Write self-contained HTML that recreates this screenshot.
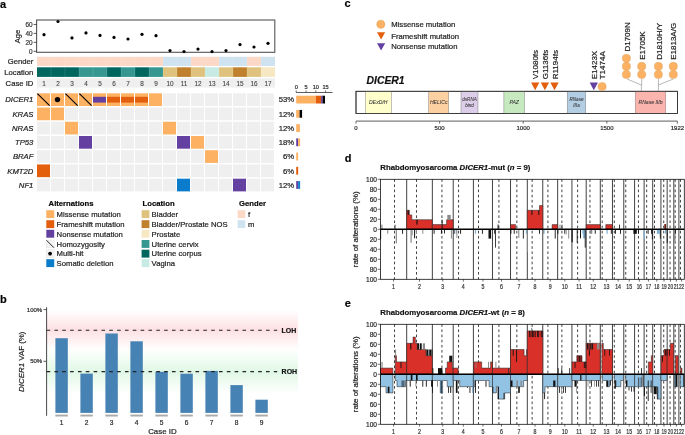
<!DOCTYPE html>
<html><head><meta charset="utf-8"><style>
html,body{margin:0;padding:0;background:#fff;overflow:hidden;}
svg{display:block;font-family:"Liberation Sans",sans-serif;will-change:transform;}
text{stroke:#222;stroke-width:0.2px;}
</style></head><body>
<svg width="685" height="435" viewBox="0 0 685 435">
<rect width="685" height="435" fill="#fff"/>
<text x="0" y="7.8" font-size="11" font-weight="bold">a</text>
<rect x="36.6" y="20.0" width="238.2" height="32.3" fill="none" stroke="#555" stroke-width="1.1"/>
<line x1="33.6" y1="51.30" x2="36.6" y2="51.30" stroke="#333" stroke-width="0.8"/>
<text x="32.6" y="53.60" font-size="6.4" text-anchor="end" fill="#4d4d4d">0</text>
<line x1="33.6" y1="42.36" x2="36.6" y2="42.36" stroke="#333" stroke-width="0.8"/>
<text x="32.6" y="44.66" font-size="6.4" text-anchor="end" fill="#4d4d4d">20</text>
<line x1="33.6" y1="33.42" x2="36.6" y2="33.42" stroke="#333" stroke-width="0.8"/>
<text x="32.6" y="35.72" font-size="6.4" text-anchor="end" fill="#4d4d4d">40</text>
<line x1="33.6" y1="24.48" x2="36.6" y2="24.48" stroke="#333" stroke-width="0.8"/>
<text x="32.6" y="26.78" font-size="6.4" text-anchor="end" fill="#4d4d4d">60</text>
<text transform="translate(19.6,36.5) rotate(-90)" font-size="7.7" text-anchor="middle" fill="#1a1a1a">Age</text>
<circle cx="44" cy="34.7" r="1.6" fill="#000"/>
<circle cx="58" cy="21.5" r="1.6" fill="#000"/>
<circle cx="72" cy="37.9" r="1.6" fill="#000"/>
<circle cx="86" cy="32.9" r="1.6" fill="#000"/>
<circle cx="100" cy="35.4" r="1.6" fill="#000"/>
<circle cx="114" cy="37.4" r="1.6" fill="#000"/>
<circle cx="128" cy="39.0" r="1.6" fill="#000"/>
<circle cx="142" cy="34.3" r="1.6" fill="#000"/>
<circle cx="156" cy="35.7" r="1.6" fill="#000"/>
<circle cx="170" cy="50.6" r="1.6" fill="#000"/>
<circle cx="184" cy="51.6" r="1.6" fill="#000"/>
<circle cx="198" cy="49.1" r="1.6" fill="#000"/>
<circle cx="212" cy="51.6" r="1.6" fill="#000"/>
<circle cx="226" cy="50.6" r="1.6" fill="#000"/>
<circle cx="240" cy="44.6" r="1.6" fill="#000"/>
<circle cx="254" cy="47.0" r="1.6" fill="#000"/>
<circle cx="268" cy="43.3" r="1.6" fill="#000"/>
<rect x="37" y="56.8" width="14.05" height="9.1" fill="#FCD8C6"/>
<rect x="51" y="56.8" width="14.05" height="9.1" fill="#FCD8C6"/>
<line x1="51" y1="56.8" x2="51" y2="65.9" stroke="#fff" stroke-opacity="0.3" stroke-width="0.5"/>
<rect x="65" y="56.8" width="14.05" height="9.1" fill="#FCD8C6"/>
<line x1="65" y1="56.8" x2="65" y2="65.9" stroke="#fff" stroke-opacity="0.3" stroke-width="0.5"/>
<rect x="79" y="56.8" width="14.05" height="9.1" fill="#FCD8C6"/>
<line x1="79" y1="56.8" x2="79" y2="65.9" stroke="#fff" stroke-opacity="0.3" stroke-width="0.5"/>
<rect x="93" y="56.8" width="14.05" height="9.1" fill="#FCD8C6"/>
<line x1="93" y1="56.8" x2="93" y2="65.9" stroke="#fff" stroke-opacity="0.3" stroke-width="0.5"/>
<rect x="107" y="56.8" width="14.05" height="9.1" fill="#FCD8C6"/>
<line x1="107" y1="56.8" x2="107" y2="65.9" stroke="#fff" stroke-opacity="0.3" stroke-width="0.5"/>
<rect x="121" y="56.8" width="14.05" height="9.1" fill="#FCD8C6"/>
<line x1="121" y1="56.8" x2="121" y2="65.9" stroke="#fff" stroke-opacity="0.3" stroke-width="0.5"/>
<rect x="135" y="56.8" width="14.05" height="9.1" fill="#FCD8C6"/>
<line x1="135" y1="56.8" x2="135" y2="65.9" stroke="#fff" stroke-opacity="0.3" stroke-width="0.5"/>
<rect x="149" y="56.8" width="14.05" height="9.1" fill="#FCD8C6"/>
<line x1="149" y1="56.8" x2="149" y2="65.9" stroke="#fff" stroke-opacity="0.3" stroke-width="0.5"/>
<rect x="163" y="56.8" width="14.05" height="9.1" fill="#CFE2F0"/>
<line x1="163" y1="56.8" x2="163" y2="65.9" stroke="#fff" stroke-opacity="0.3" stroke-width="0.5"/>
<rect x="177" y="56.8" width="14.05" height="9.1" fill="#CFE2F0"/>
<line x1="177" y1="56.8" x2="177" y2="65.9" stroke="#fff" stroke-opacity="0.3" stroke-width="0.5"/>
<rect x="191" y="56.8" width="14.05" height="9.1" fill="#FCD8C6"/>
<line x1="191" y1="56.8" x2="191" y2="65.9" stroke="#fff" stroke-opacity="0.3" stroke-width="0.5"/>
<rect x="205" y="56.8" width="14.05" height="9.1" fill="#FCD8C6"/>
<line x1="205" y1="56.8" x2="205" y2="65.9" stroke="#fff" stroke-opacity="0.3" stroke-width="0.5"/>
<rect x="219" y="56.8" width="14.05" height="9.1" fill="#CFE2F0"/>
<line x1="219" y1="56.8" x2="219" y2="65.9" stroke="#fff" stroke-opacity="0.3" stroke-width="0.5"/>
<rect x="233" y="56.8" width="14.05" height="9.1" fill="#CFE2F0"/>
<line x1="233" y1="56.8" x2="233" y2="65.9" stroke="#fff" stroke-opacity="0.3" stroke-width="0.5"/>
<rect x="247" y="56.8" width="14.05" height="9.1" fill="#FCD8C6"/>
<line x1="247" y1="56.8" x2="247" y2="65.9" stroke="#fff" stroke-opacity="0.3" stroke-width="0.5"/>
<rect x="261" y="56.8" width="14.05" height="9.1" fill="#CFE2F0"/>
<line x1="261" y1="56.8" x2="261" y2="65.9" stroke="#fff" stroke-opacity="0.3" stroke-width="0.5"/>
<rect x="37" y="67.3" width="14.05" height="9.6" fill="#01665E"/>
<rect x="51" y="67.3" width="14.05" height="9.6" fill="#01665E"/>
<line x1="51" y1="67.3" x2="51" y2="76.9" stroke="#fff" stroke-opacity="0.25" stroke-width="0.5"/>
<rect x="65" y="67.3" width="14.05" height="9.6" fill="#01665E"/>
<line x1="65" y1="67.3" x2="65" y2="76.9" stroke="#fff" stroke-opacity="0.25" stroke-width="0.5"/>
<rect x="79" y="67.3" width="14.05" height="9.6" fill="#35978F"/>
<line x1="79" y1="67.3" x2="79" y2="76.9" stroke="#fff" stroke-opacity="0.25" stroke-width="0.5"/>
<rect x="93" y="67.3" width="14.05" height="9.6" fill="#35978F"/>
<line x1="93" y1="67.3" x2="93" y2="76.9" stroke="#fff" stroke-opacity="0.25" stroke-width="0.5"/>
<rect x="107" y="67.3" width="14.05" height="9.6" fill="#01665E"/>
<line x1="107" y1="67.3" x2="107" y2="76.9" stroke="#fff" stroke-opacity="0.25" stroke-width="0.5"/>
<rect x="121" y="67.3" width="14.05" height="9.6" fill="#35978F"/>
<line x1="121" y1="67.3" x2="121" y2="76.9" stroke="#fff" stroke-opacity="0.25" stroke-width="0.5"/>
<rect x="135" y="67.3" width="14.05" height="9.6" fill="#01665E"/>
<line x1="135" y1="67.3" x2="135" y2="76.9" stroke="#fff" stroke-opacity="0.25" stroke-width="0.5"/>
<rect x="149" y="67.3" width="14.05" height="9.6" fill="#35978F"/>
<line x1="149" y1="67.3" x2="149" y2="76.9" stroke="#fff" stroke-opacity="0.25" stroke-width="0.5"/>
<rect x="163" y="67.3" width="14.05" height="9.6" fill="#DFC27D"/>
<line x1="163" y1="67.3" x2="163" y2="76.9" stroke="#fff" stroke-opacity="0.25" stroke-width="0.5"/>
<rect x="177" y="67.3" width="14.05" height="9.6" fill="#BF812D"/>
<line x1="177" y1="67.3" x2="177" y2="76.9" stroke="#fff" stroke-opacity="0.25" stroke-width="0.5"/>
<rect x="191" y="67.3" width="14.05" height="9.6" fill="#DFC27D"/>
<line x1="191" y1="67.3" x2="191" y2="76.9" stroke="#fff" stroke-opacity="0.25" stroke-width="0.5"/>
<rect x="205" y="67.3" width="14.05" height="9.6" fill="#C7EAE5"/>
<line x1="205" y1="67.3" x2="205" y2="76.9" stroke="#fff" stroke-opacity="0.25" stroke-width="0.5"/>
<rect x="219" y="67.3" width="14.05" height="9.6" fill="#DFC27D"/>
<line x1="219" y1="67.3" x2="219" y2="76.9" stroke="#fff" stroke-opacity="0.25" stroke-width="0.5"/>
<rect x="233" y="67.3" width="14.05" height="9.6" fill="#BF812D"/>
<line x1="233" y1="67.3" x2="233" y2="76.9" stroke="#fff" stroke-opacity="0.25" stroke-width="0.5"/>
<rect x="247" y="67.3" width="14.05" height="9.6" fill="#DFC27D"/>
<line x1="247" y1="67.3" x2="247" y2="76.9" stroke="#fff" stroke-opacity="0.25" stroke-width="0.5"/>
<rect x="261" y="67.3" width="14.05" height="9.6" fill="#F6E8C3"/>
<line x1="261" y1="67.3" x2="261" y2="76.9" stroke="#fff" stroke-opacity="0.25" stroke-width="0.5"/>
<rect x="37" y="78.3" width="238" height="9.3" fill="#EFEFEF"/>
<text x="44" y="86.1" font-size="6.4" text-anchor="middle" fill="#444" style="stroke:#444;stroke-width:0.1px">1</text>
<text x="58" y="86.1" font-size="6.4" text-anchor="middle" fill="#444" style="stroke:#444;stroke-width:0.1px">2</text>
<text x="72" y="86.1" font-size="6.4" text-anchor="middle" fill="#444" style="stroke:#444;stroke-width:0.1px">3</text>
<text x="86" y="86.1" font-size="6.4" text-anchor="middle" fill="#444" style="stroke:#444;stroke-width:0.1px">4</text>
<text x="100" y="86.1" font-size="6.4" text-anchor="middle" fill="#444" style="stroke:#444;stroke-width:0.1px">5</text>
<text x="114" y="86.1" font-size="6.4" text-anchor="middle" fill="#444" style="stroke:#444;stroke-width:0.1px">6</text>
<text x="128" y="86.1" font-size="6.4" text-anchor="middle" fill="#444" style="stroke:#444;stroke-width:0.1px">7</text>
<text x="142" y="86.1" font-size="6.4" text-anchor="middle" fill="#444" style="stroke:#444;stroke-width:0.1px">8</text>
<text x="156" y="86.1" font-size="6.4" text-anchor="middle" fill="#444" style="stroke:#444;stroke-width:0.1px">9</text>
<text x="170" y="86.1" font-size="6.4" text-anchor="middle" fill="#444" style="stroke:#444;stroke-width:0.1px">10</text>
<text x="184" y="86.1" font-size="6.4" text-anchor="middle" fill="#444" style="stroke:#444;stroke-width:0.1px">11</text>
<text x="198" y="86.1" font-size="6.4" text-anchor="middle" fill="#444" style="stroke:#444;stroke-width:0.1px">12</text>
<text x="212" y="86.1" font-size="6.4" text-anchor="middle" fill="#444" style="stroke:#444;stroke-width:0.1px">13</text>
<text x="226" y="86.1" font-size="6.4" text-anchor="middle" fill="#444" style="stroke:#444;stroke-width:0.1px">14</text>
<text x="240" y="86.1" font-size="6.4" text-anchor="middle" fill="#444" style="stroke:#444;stroke-width:0.1px">15</text>
<text x="254" y="86.1" font-size="6.4" text-anchor="middle" fill="#444" style="stroke:#444;stroke-width:0.1px">16</text>
<text x="268" y="86.1" font-size="6.4" text-anchor="middle" fill="#444" style="stroke:#444;stroke-width:0.1px">17</text>
<text x="33.4" y="64.15" font-size="7.7" text-anchor="end" fill="#1a1a1a">Gender</text>
<text x="33.4" y="74.90" font-size="7.7" text-anchor="end" fill="#1a1a1a">Location</text>
<text x="33.4" y="85.75" font-size="7.7" text-anchor="end" fill="#1a1a1a">Case ID</text>
<rect x="37.00" y="93.30" width="13" height="12.7" fill="#FDB163"/>
<line x1="37.40" y1="93.70" x2="49.60" y2="105.60" stroke="#000" stroke-width="1.1"/>
<rect x="51.00" y="93.30" width="13" height="12.7" fill="#FDB163"/>
<circle cx="57.50" cy="99.60" r="2.7" fill="#000"/>
<rect x="65.00" y="93.30" width="13" height="12.7" fill="#FDB163"/>
<line x1="65.40" y1="93.70" x2="77.60" y2="105.60" stroke="#000" stroke-width="1.1"/>
<rect x="79.00" y="93.30" width="13" height="12.7" fill="#FDB163"/>
<line x1="79.40" y1="93.70" x2="91.60" y2="105.60" stroke="#000" stroke-width="1.1"/>
<rect x="93.00" y="93.30" width="13" height="12.7" fill="#FDB163"/>
<rect x="93.00" y="96.80" width="13" height="5.8" fill="#6441A0"/>
<rect x="107.00" y="93.30" width="13" height="12.7" fill="#FDB163"/>
<rect x="107.00" y="96.80" width="13" height="5.8" fill="#E35F0E"/>
<rect x="121.00" y="93.30" width="13" height="12.7" fill="#FDB163"/>
<rect x="121.00" y="96.80" width="13" height="5.8" fill="#E35F0E"/>
<rect x="135.00" y="93.30" width="13" height="12.7" fill="#FDB163"/>
<rect x="135.00" y="96.80" width="13" height="5.8" fill="#E35F0E"/>
<rect x="149.00" y="93.30" width="13" height="12.7" fill="#FDB163"/>
<rect x="163.00" y="93.30" width="13" height="12.7" fill="#EFEFEF"/>
<rect x="177.00" y="93.30" width="13" height="12.7" fill="#EFEFEF"/>
<rect x="191.00" y="93.30" width="13" height="12.7" fill="#EFEFEF"/>
<rect x="205.00" y="93.30" width="13" height="12.7" fill="#EFEFEF"/>
<rect x="219.00" y="93.30" width="13" height="12.7" fill="#EFEFEF"/>
<rect x="233.00" y="93.30" width="13" height="12.7" fill="#EFEFEF"/>
<rect x="247.00" y="93.30" width="13" height="12.7" fill="#EFEFEF"/>
<rect x="261.00" y="93.30" width="13" height="12.7" fill="#EFEFEF"/>
<text x="33.4" y="102.40" font-size="7.7" font-style="italic" text-anchor="end" fill="#1a1a1a">DICER1</text>
<text x="294.2" y="102.40" font-size="7.7" text-anchor="end" fill="#1a1a1a">53%</text>
<rect x="37.00" y="107.53" width="13" height="12.7" fill="#FDB163"/>
<rect x="51.00" y="107.53" width="13" height="12.7" fill="#FDB163"/>
<rect x="65.00" y="107.53" width="13" height="12.7" fill="#EFEFEF"/>
<rect x="79.00" y="107.53" width="13" height="12.7" fill="#EFEFEF"/>
<rect x="93.00" y="107.53" width="13" height="12.7" fill="#EFEFEF"/>
<rect x="107.00" y="107.53" width="13" height="12.7" fill="#EFEFEF"/>
<rect x="121.00" y="107.53" width="13" height="12.7" fill="#EFEFEF"/>
<rect x="135.00" y="107.53" width="13" height="12.7" fill="#EFEFEF"/>
<rect x="149.00" y="107.53" width="13" height="12.7" fill="#EFEFEF"/>
<rect x="163.00" y="107.53" width="13" height="12.7" fill="#EFEFEF"/>
<rect x="177.00" y="107.53" width="13" height="12.7" fill="#EFEFEF"/>
<rect x="191.00" y="107.53" width="13" height="12.7" fill="#EFEFEF"/>
<rect x="205.00" y="107.53" width="13" height="12.7" fill="#EFEFEF"/>
<rect x="219.00" y="107.53" width="13" height="12.7" fill="#EFEFEF"/>
<rect x="233.00" y="107.53" width="13" height="12.7" fill="#EFEFEF"/>
<rect x="247.00" y="107.53" width="13" height="12.7" fill="#EFEFEF"/>
<rect x="261.00" y="107.53" width="13" height="12.7" fill="#EFEFEF"/>
<text x="33.4" y="116.63" font-size="7.7" font-style="italic" text-anchor="end" fill="#1a1a1a">KRAS</text>
<text x="294.2" y="116.63" font-size="7.7" text-anchor="end" fill="#1a1a1a">12%</text>
<rect x="37.00" y="121.76" width="13" height="12.7" fill="#EFEFEF"/>
<rect x="51.00" y="121.76" width="13" height="12.7" fill="#EFEFEF"/>
<rect x="65.00" y="121.76" width="13" height="12.7" fill="#FDB163"/>
<rect x="79.00" y="121.76" width="13" height="12.7" fill="#EFEFEF"/>
<rect x="93.00" y="121.76" width="13" height="12.7" fill="#EFEFEF"/>
<rect x="107.00" y="121.76" width="13" height="12.7" fill="#EFEFEF"/>
<rect x="121.00" y="121.76" width="13" height="12.7" fill="#EFEFEF"/>
<rect x="135.00" y="121.76" width="13" height="12.7" fill="#EFEFEF"/>
<rect x="149.00" y="121.76" width="13" height="12.7" fill="#EFEFEF"/>
<rect x="163.00" y="121.76" width="13" height="12.7" fill="#FDB163"/>
<rect x="177.00" y="121.76" width="13" height="12.7" fill="#EFEFEF"/>
<rect x="191.00" y="121.76" width="13" height="12.7" fill="#EFEFEF"/>
<rect x="205.00" y="121.76" width="13" height="12.7" fill="#EFEFEF"/>
<rect x="219.00" y="121.76" width="13" height="12.7" fill="#EFEFEF"/>
<rect x="233.00" y="121.76" width="13" height="12.7" fill="#EFEFEF"/>
<rect x="247.00" y="121.76" width="13" height="12.7" fill="#EFEFEF"/>
<rect x="261.00" y="121.76" width="13" height="12.7" fill="#EFEFEF"/>
<text x="33.4" y="130.86" font-size="7.7" font-style="italic" text-anchor="end" fill="#1a1a1a">NRAS</text>
<text x="294.2" y="130.86" font-size="7.7" text-anchor="end" fill="#1a1a1a">12%</text>
<rect x="37.00" y="135.99" width="13" height="12.7" fill="#EFEFEF"/>
<rect x="51.00" y="135.99" width="13" height="12.7" fill="#EFEFEF"/>
<rect x="65.00" y="135.99" width="13" height="12.7" fill="#EFEFEF"/>
<rect x="79.00" y="135.99" width="13" height="12.7" fill="#6441A0"/>
<rect x="93.00" y="135.99" width="13" height="12.7" fill="#EFEFEF"/>
<rect x="107.00" y="135.99" width="13" height="12.7" fill="#EFEFEF"/>
<rect x="121.00" y="135.99" width="13" height="12.7" fill="#EFEFEF"/>
<rect x="135.00" y="135.99" width="13" height="12.7" fill="#EFEFEF"/>
<rect x="149.00" y="135.99" width="13" height="12.7" fill="#EFEFEF"/>
<rect x="163.00" y="135.99" width="13" height="12.7" fill="#EFEFEF"/>
<rect x="177.00" y="135.99" width="13" height="12.7" fill="#6441A0"/>
<rect x="191.00" y="135.99" width="13" height="12.7" fill="#FDB163"/>
<rect x="205.00" y="135.99" width="13" height="12.7" fill="#EFEFEF"/>
<rect x="219.00" y="135.99" width="13" height="12.7" fill="#EFEFEF"/>
<rect x="233.00" y="135.99" width="13" height="12.7" fill="#EFEFEF"/>
<rect x="247.00" y="135.99" width="13" height="12.7" fill="#EFEFEF"/>
<rect x="261.00" y="135.99" width="13" height="12.7" fill="#EFEFEF"/>
<text x="33.4" y="145.09" font-size="7.7" font-style="italic" text-anchor="end" fill="#1a1a1a">TP53</text>
<text x="294.2" y="145.09" font-size="7.7" text-anchor="end" fill="#1a1a1a">18%</text>
<rect x="37.00" y="150.22" width="13" height="12.7" fill="#EFEFEF"/>
<rect x="51.00" y="150.22" width="13" height="12.7" fill="#EFEFEF"/>
<rect x="65.00" y="150.22" width="13" height="12.7" fill="#EFEFEF"/>
<rect x="79.00" y="150.22" width="13" height="12.7" fill="#EFEFEF"/>
<rect x="93.00" y="150.22" width="13" height="12.7" fill="#EFEFEF"/>
<rect x="107.00" y="150.22" width="13" height="12.7" fill="#EFEFEF"/>
<rect x="121.00" y="150.22" width="13" height="12.7" fill="#EFEFEF"/>
<rect x="135.00" y="150.22" width="13" height="12.7" fill="#EFEFEF"/>
<rect x="149.00" y="150.22" width="13" height="12.7" fill="#EFEFEF"/>
<rect x="163.00" y="150.22" width="13" height="12.7" fill="#EFEFEF"/>
<rect x="177.00" y="150.22" width="13" height="12.7" fill="#EFEFEF"/>
<rect x="191.00" y="150.22" width="13" height="12.7" fill="#EFEFEF"/>
<rect x="205.00" y="150.22" width="13" height="12.7" fill="#FDB163"/>
<rect x="219.00" y="150.22" width="13" height="12.7" fill="#EFEFEF"/>
<rect x="233.00" y="150.22" width="13" height="12.7" fill="#EFEFEF"/>
<rect x="247.00" y="150.22" width="13" height="12.7" fill="#EFEFEF"/>
<rect x="261.00" y="150.22" width="13" height="12.7" fill="#EFEFEF"/>
<text x="33.4" y="159.32" font-size="7.7" font-style="italic" text-anchor="end" fill="#1a1a1a">BRAF</text>
<text x="294.2" y="159.32" font-size="7.7" text-anchor="end" fill="#1a1a1a">6%</text>
<rect x="37.00" y="164.45" width="13" height="12.7" fill="#E35F0E"/>
<rect x="51.00" y="164.45" width="13" height="12.7" fill="#EFEFEF"/>
<rect x="65.00" y="164.45" width="13" height="12.7" fill="#EFEFEF"/>
<rect x="79.00" y="164.45" width="13" height="12.7" fill="#EFEFEF"/>
<rect x="93.00" y="164.45" width="13" height="12.7" fill="#EFEFEF"/>
<rect x="107.00" y="164.45" width="13" height="12.7" fill="#EFEFEF"/>
<rect x="121.00" y="164.45" width="13" height="12.7" fill="#EFEFEF"/>
<rect x="135.00" y="164.45" width="13" height="12.7" fill="#EFEFEF"/>
<rect x="149.00" y="164.45" width="13" height="12.7" fill="#EFEFEF"/>
<rect x="163.00" y="164.45" width="13" height="12.7" fill="#EFEFEF"/>
<rect x="177.00" y="164.45" width="13" height="12.7" fill="#EFEFEF"/>
<rect x="191.00" y="164.45" width="13" height="12.7" fill="#EFEFEF"/>
<rect x="205.00" y="164.45" width="13" height="12.7" fill="#EFEFEF"/>
<rect x="219.00" y="164.45" width="13" height="12.7" fill="#EFEFEF"/>
<rect x="233.00" y="164.45" width="13" height="12.7" fill="#EFEFEF"/>
<rect x="247.00" y="164.45" width="13" height="12.7" fill="#EFEFEF"/>
<rect x="261.00" y="164.45" width="13" height="12.7" fill="#EFEFEF"/>
<text x="33.4" y="173.55" font-size="7.7" font-style="italic" text-anchor="end" fill="#1a1a1a">KMT2D</text>
<text x="294.2" y="173.55" font-size="7.7" text-anchor="end" fill="#1a1a1a">6%</text>
<rect x="37.00" y="178.68" width="13" height="12.7" fill="#EFEFEF"/>
<rect x="51.00" y="178.68" width="13" height="12.7" fill="#EFEFEF"/>
<rect x="65.00" y="178.68" width="13" height="12.7" fill="#EFEFEF"/>
<rect x="79.00" y="178.68" width="13" height="12.7" fill="#EFEFEF"/>
<rect x="93.00" y="178.68" width="13" height="12.7" fill="#EFEFEF"/>
<rect x="107.00" y="178.68" width="13" height="12.7" fill="#EFEFEF"/>
<rect x="121.00" y="178.68" width="13" height="12.7" fill="#EFEFEF"/>
<rect x="135.00" y="178.68" width="13" height="12.7" fill="#EFEFEF"/>
<rect x="149.00" y="178.68" width="13" height="12.7" fill="#EFEFEF"/>
<rect x="163.00" y="178.68" width="13" height="12.7" fill="#EFEFEF"/>
<rect x="177.00" y="178.68" width="13" height="12.7" fill="#0A7CCB"/>
<rect x="191.00" y="178.68" width="13" height="12.7" fill="#EFEFEF"/>
<rect x="205.00" y="178.68" width="13" height="12.7" fill="#EFEFEF"/>
<rect x="219.00" y="178.68" width="13" height="12.7" fill="#EFEFEF"/>
<rect x="233.00" y="178.68" width="13" height="12.7" fill="#6441A0"/>
<rect x="247.00" y="178.68" width="13" height="12.7" fill="#EFEFEF"/>
<rect x="261.00" y="178.68" width="13" height="12.7" fill="#EFEFEF"/>
<text x="33.4" y="187.78" font-size="7.7" font-style="italic" text-anchor="end" fill="#1a1a1a">NF1</text>
<text x="294.2" y="187.78" font-size="7.7" text-anchor="end" fill="#1a1a1a">12%</text>
<rect x="296.20" y="95.70" width="19.60" height="7.8" fill="#FDB163"/>
<rect x="315.80" y="95.70" width="5.29" height="7.8" fill="#E35F0E"/>
<rect x="321.09" y="95.70" width="1.57" height="7.8" fill="#6441A0"/>
<rect x="322.66" y="95.70" width="2.35" height="7.8" fill="#000"/>
<rect x="296.20" y="109.93" width="3.43" height="7.8" fill="#FDB163"/>
<rect x="299.63" y="109.93" width="2.45" height="7.8" fill="#000"/>
<rect x="296.20" y="124.16" width="3.72" height="7.8" fill="#FDB163"/>
<rect x="296.20" y="138.39" width="1.96" height="7.8" fill="#6441A0"/>
<rect x="298.16" y="138.39" width="1.96" height="7.8" fill="#FDB163"/>
<rect x="296.20" y="152.62" width="1.96" height="7.8" fill="#FDB163"/>
<rect x="296.20" y="166.85" width="1.96" height="7.8" fill="#E35F0E"/>
<rect x="296.20" y="181.08" width="1.96" height="7.8" fill="#6441A0"/>
<rect x="298.16" y="181.08" width="1.96" height="7.8" fill="#0A7CCB"/>
<line x1="296.2" y1="92.5" x2="332.6" y2="92.5" stroke="#333" stroke-width="0.8"/>
<line x1="296.20" y1="90.4" x2="296.20" y2="92.5" stroke="#333" stroke-width="0.7"/>
<text x="296.20" y="89.2" font-size="5.6" text-anchor="middle" fill="#333">0</text>
<line x1="306.00" y1="90.4" x2="306.00" y2="92.5" stroke="#333" stroke-width="0.7"/>
<text x="306.00" y="89.2" font-size="5.6" text-anchor="middle" fill="#333">5</text>
<line x1="315.80" y1="90.4" x2="315.80" y2="92.5" stroke="#333" stroke-width="0.7"/>
<text x="315.80" y="89.2" font-size="5.6" text-anchor="middle" fill="#333">10</text>
<line x1="325.60" y1="90.4" x2="325.60" y2="92.5" stroke="#333" stroke-width="0.7"/>
<text x="325.60" y="89.2" font-size="5.6" text-anchor="middle" fill="#333">15</text>
<text x="48.6" y="206.2" font-size="7.7" font-weight="bold" fill="#000">Alternations</text>
<text x="142.6" y="206.2" font-size="7.7" font-weight="bold" fill="#000">Location</text>
<text x="239.0" y="206.2" font-size="7.7" font-weight="bold" fill="#000">Gender</text>
<rect x="46.3" y="210.20" width="7.9" height="7.9" fill="#FDB163"/>
<text x="56.6" y="216.90" font-size="7.7" fill="#1a1a1a">Missense mutation</text>
<rect x="46.3" y="220.20" width="7.9" height="7.9" fill="#E35F0E"/>
<text x="56.6" y="226.90" font-size="7.7" fill="#1a1a1a">Frameshift mutation</text>
<rect x="46.3" y="229.80" width="7.9" height="7.9" fill="#6441A0"/>
<text x="56.6" y="236.50" font-size="7.7" fill="#1a1a1a">Nonsense mutation</text>
<rect x="46.3" y="240.10" width="7.8" height="7.8" fill="#F3F3F3" stroke="#ddd" stroke-width="0.4"/>
<line x1="46.5" y1="240.30" x2="53.9" y2="247.70" stroke="#111" stroke-width="0.9"/>
<text x="56.6" y="246.70" font-size="7.7" fill="#1a1a1a">Homozygosity</text>
<rect x="46.3" y="249.80" width="7.8" height="7.8" fill="#F3F3F3" stroke="#ddd" stroke-width="0.4"/>
<circle cx="50.1" cy="253.60" r="1.9" fill="#000"/>
<text x="56.6" y="256.40" font-size="7.7" fill="#1a1a1a">Multi-hit</text>
<rect x="46.3" y="259.20" width="7.9" height="7.9" fill="#0A7CCB"/>
<text x="56.6" y="265.90" font-size="7.7" fill="#1a1a1a">Somatic deletion</text>
<rect x="141.6" y="210.20" width="7.8" height="7.9" fill="#DFC27D"/>
<text x="151.6" y="216.90" font-size="7.7" fill="#1a1a1a">Bladder</text>
<rect x="141.6" y="220.20" width="7.8" height="7.9" fill="#BF812D"/>
<text x="151.6" y="226.90" font-size="7.7" fill="#1a1a1a">Bladder/Prostate NOS</text>
<rect x="141.6" y="229.80" width="7.8" height="7.9" fill="#F6E8C3"/>
<text x="151.6" y="236.50" font-size="7.7" fill="#1a1a1a">Prostate</text>
<rect x="141.6" y="240.00" width="7.8" height="7.9" fill="#35978F"/>
<text x="151.6" y="246.70" font-size="7.7" fill="#1a1a1a">Uterine cervix</text>
<rect x="141.6" y="249.70" width="7.8" height="7.9" fill="#01665E"/>
<text x="151.6" y="256.40" font-size="7.7" fill="#1a1a1a">Uterine corpus</text>
<rect x="141.6" y="259.20" width="7.8" height="7.9" fill="#C7EAE5"/>
<text x="151.6" y="265.90" font-size="7.7" fill="#1a1a1a">Vagina</text>
<rect x="237.7" y="210.20" width="7.5" height="7.9" fill="#FCD8C6"/>
<text x="248.0" y="216.90" font-size="7.7" fill="#1a1a1a">f</text>
<rect x="237.7" y="220.20" width="7.5" height="7.9" fill="#CFE2F0"/>
<text x="248.0" y="226.90" font-size="7.7" fill="#1a1a1a">m</text>
<text x="0" y="303.2" font-size="11" font-weight="bold">b</text>
<defs>
<linearGradient id="gp" x1="0" y1="0" x2="0" y2="1">
<stop offset="0" stop-color="#fde3e6" stop-opacity="0"/>
<stop offset="0.5" stop-color="#fde0e3" stop-opacity="1"/>
<stop offset="1" stop-color="#fde3e6" stop-opacity="0"/>
</linearGradient>
<linearGradient id="gg" x1="0" y1="0" x2="0" y2="1">
<stop offset="0" stop-color="#e2f8e6" stop-opacity="0"/>
<stop offset="0.5" stop-color="#e0f8e6" stop-opacity="1"/>
<stop offset="1" stop-color="#e2f8e6" stop-opacity="0"/>
</linearGradient>
</defs>
<rect x="46.9" y="309.5" width="251" height="41" fill="url(#gp)"/>
<rect x="46.9" y="349" width="251" height="45" fill="url(#gg)"/>
<line x1="46.6" y1="307.2" x2="46.6" y2="415.8" stroke="#333" stroke-width="0.9"/>
<line x1="43.4" y1="309.60" x2="46.6" y2="309.60" stroke="#333" stroke-width="0.8"/>
<text x="42.2" y="311.70" font-size="6" text-anchor="end" fill="#333">100%</text>
<line x1="43.4" y1="361.30" x2="46.6" y2="361.30" stroke="#333" stroke-width="0.8"/>
<text x="42.2" y="363.40" font-size="6" text-anchor="end" fill="#333">50%</text>
<rect x="55.40" y="338.2" width="12.4" height="74.70" fill="#4682B4"/>
<rect x="55.40" y="414.6" width="12.4" height="1.9" fill="#aaa"/>
<text x="61.60" y="424.7" font-size="6.6" text-anchor="middle" fill="#333">1</text>
<rect x="80.40" y="373.6" width="12.4" height="39.30" fill="#4682B4"/>
<rect x="80.40" y="414.6" width="12.4" height="1.9" fill="#aaa"/>
<text x="86.60" y="424.7" font-size="6.6" text-anchor="middle" fill="#333">2</text>
<rect x="105.40" y="333.5" width="12.4" height="79.40" fill="#4682B4"/>
<rect x="105.40" y="414.6" width="12.4" height="1.9" fill="#aaa"/>
<text x="111.60" y="424.7" font-size="6.6" text-anchor="middle" fill="#333">3</text>
<rect x="130.40" y="341.3" width="12.4" height="71.60" fill="#4682B4"/>
<rect x="130.40" y="414.6" width="12.4" height="1.9" fill="#aaa"/>
<text x="136.60" y="424.7" font-size="6.6" text-anchor="middle" fill="#333">4</text>
<rect x="155.40" y="371.8" width="12.4" height="41.10" fill="#4682B4"/>
<rect x="155.40" y="414.6" width="12.4" height="1.9" fill="#aaa"/>
<text x="161.60" y="424.7" font-size="6.6" text-anchor="middle" fill="#333">5</text>
<rect x="180.40" y="373.7" width="12.4" height="39.20" fill="#4682B4"/>
<rect x="180.40" y="414.6" width="12.4" height="1.9" fill="#aaa"/>
<text x="186.60" y="424.7" font-size="6.6" text-anchor="middle" fill="#333">6</text>
<rect x="205.40" y="370.9" width="12.4" height="42.00" fill="#4682B4"/>
<rect x="205.40" y="414.6" width="12.4" height="1.9" fill="#aaa"/>
<text x="211.60" y="424.7" font-size="6.6" text-anchor="middle" fill="#333">7</text>
<rect x="230.40" y="385.1" width="12.4" height="27.80" fill="#4682B4"/>
<rect x="230.40" y="414.6" width="12.4" height="1.9" fill="#aaa"/>
<text x="236.60" y="424.7" font-size="6.6" text-anchor="middle" fill="#333">8</text>
<rect x="255.40" y="399.7" width="12.4" height="13.20" fill="#4682B4"/>
<rect x="255.40" y="414.6" width="12.4" height="1.9" fill="#aaa"/>
<text x="261.60" y="424.7" font-size="6.6" text-anchor="middle" fill="#333">9</text>
<line x1="46.6" y1="330.3" x2="277.2" y2="330.3" stroke="#222" stroke-width="1.1" stroke-dasharray="3.6 4.236"/>
<line x1="46.6" y1="371.6" x2="277.2" y2="371.6" stroke="#222" stroke-width="1.1" stroke-dasharray="3.6 4.236"/>
<text x="281.6" y="332.9" font-size="7" font-weight="bold" fill="#111">LOH</text>
<text x="281.6" y="374.2" font-size="7" font-weight="bold" fill="#111">ROH</text>
<text x="162.4" y="434.0" font-size="7.9" text-anchor="middle" fill="#222">Case ID</text>
<text transform="translate(23.8,361.7) rotate(-90)" font-size="7.9" text-anchor="middle" fill="#1a1a1a"><tspan font-style="italic">DICER1</tspan> VAF (%)</text>
<text x="344.6" y="7.2" font-size="11" font-weight="bold">c</text>
<circle cx="380.8" cy="24.3" r="4.1" fill="#FDB163" stroke="#c98a3a" stroke-width="0.3"/>
<polygon points="377,32.3 385.2,32.3 381.1,39.6" fill="#E35F0E"/>
<polygon points="377,43.3 385.2,43.3 381.1,50.5" fill="#6441A0"/>
<text x="391.2" y="27.10" font-size="7.7" fill="#1a1a1a">Missense mutation</text>
<text x="391.2" y="38.50" font-size="7.7" fill="#1a1a1a">Frameshift mutation</text>
<text x="391.2" y="49.30" font-size="7.7" fill="#1a1a1a">Nonsense mutation</text>
<text x="366.5" y="83.9" font-size="10.4" font-weight="bold" font-style="italic" fill="#111">DICER1</text>
<rect x="356" y="91.3" width="321.4" height="22.2" fill="#fff" stroke="#333" stroke-width="0.8"/>
<rect x="365.3" y="91.3" width="26.00" height="22.2" fill="#FFFFCC" stroke="#777" stroke-width="0.45"/>
<text x="378.30" y="104.3" font-size="5.1" font-style="italic" text-anchor="middle" fill="#333" style="stroke-width:0.05px">DExD/H</text>
<rect x="428.7" y="91.3" width="20.00" height="22.2" fill="#FDD0A2" stroke="#777" stroke-width="0.45"/>
<text x="438.70" y="104.3" font-size="5.1" font-style="italic" text-anchor="middle" fill="#333" style="stroke-width:0.05px">HELICc</text>
<rect x="461" y="91.3" width="17.00" height="22.2" fill="#DCCDE8" stroke="#777" stroke-width="0.45"/>
<text x="469.50" y="101.0" font-size="4.6" font-style="italic" text-anchor="middle" fill="#333" style="stroke-width:0.05px">dsRNA</text>
<text x="469.50" y="107.0" font-size="4.6" font-style="italic" text-anchor="middle" fill="#333" style="stroke-width:0.05px">bind</text>
<rect x="503.9" y="91.3" width="20.60" height="22.2" fill="#C7E9C0" stroke="#777" stroke-width="0.45"/>
<text x="514.20" y="104.3" font-size="5.1" font-style="italic" text-anchor="middle" fill="#333" style="stroke-width:0.05px">PAZ</text>
<rect x="567.2" y="91.3" width="18.60" height="22.2" fill="#B3CDE3" stroke="#777" stroke-width="0.45"/>
<text x="576.50" y="101.0" font-size="4.6" font-style="italic" text-anchor="middle" fill="#333" style="stroke-width:0.05px">RNase</text>
<text x="576.50" y="107.0" font-size="4.6" font-style="italic" text-anchor="middle" fill="#333" style="stroke-width:0.05px">IIIa</text>
<rect x="635.2" y="91.3" width="30.60" height="22.2" fill="#FBB4AE" stroke="#777" stroke-width="0.45"/>
<text x="650.50" y="104.3" font-size="5.1" font-style="italic" text-anchor="middle" fill="#333" style="stroke-width:0.05px">RNase IIIb</text>
<rect x="356" y="91.3" width="321.4" height="22.2" fill="none" stroke="#333" stroke-width="0.8"/>
<line x1="356" y1="121.1" x2="677.4" y2="121.1" stroke="#333" stroke-width="0.8"/>
<line x1="356.00" y1="121.1" x2="356.00" y2="123.7" stroke="#333" stroke-width="0.7"/>
<text x="356.00" y="130.2" font-size="6" text-anchor="middle" fill="#333">0</text>
<line x1="439.61" y1="121.1" x2="439.61" y2="123.7" stroke="#333" stroke-width="0.7"/>
<text x="439.61" y="130.2" font-size="6" text-anchor="middle" fill="#333">500</text>
<line x1="523.22" y1="121.1" x2="523.22" y2="123.7" stroke="#333" stroke-width="0.7"/>
<text x="523.22" y="130.2" font-size="6" text-anchor="middle" fill="#333">1000</text>
<line x1="606.83" y1="121.1" x2="606.83" y2="123.7" stroke="#333" stroke-width="0.7"/>
<text x="606.83" y="130.2" font-size="6" text-anchor="middle" fill="#333">1500</text>
<line x1="677.40" y1="121.1" x2="677.40" y2="123.7" stroke="#333" stroke-width="0.7"/>
<text x="677.40" y="130.2" font-size="6" text-anchor="middle" fill="#333">1922</text>
<polyline points="627,79 641.4,85 641.4,91.3" fill="none" stroke="#888" stroke-width="0.6"/>
<line x1="641.7" y1="79" x2="641.7" y2="85" stroke="#888" stroke-width="0.6"/>
<line x1="658.4" y1="79" x2="658.4" y2="91.3" stroke="#888" stroke-width="0.6"/>
<polyline points="673.3,79 658.4,85" fill="none" stroke="#888" stroke-width="0.6"/>
<polygon points="531.05,82.4 539.35,82.4 535.20,90.3" fill="#E35F0E"/>
<polygon points="540.75,82.4 549.05,82.4 544.90,90.3" fill="#E35F0E"/>
<polygon points="550.35,82.4 558.65,82.4 554.50,90.3" fill="#E35F0E"/>
<polygon points="589.65,82.4 597.95,82.4 593.80,90.3" fill="#6441A0"/>
<circle cx="602.1" cy="86.6" r="4.1" fill="#FDB163" stroke="#c98a3a" stroke-width="0.3"/>
<circle cx="626.4" cy="58.3" r="4.1" fill="#FDB163" stroke="#c98a3a" stroke-width="0.3"/>
<circle cx="626.4" cy="66.4" r="4.1" fill="#FDB163" stroke="#c98a3a" stroke-width="0.3"/>
<circle cx="626.4" cy="74.5" r="4.1" fill="#FDB163" stroke="#c98a3a" stroke-width="0.3"/>
<circle cx="641.7" cy="66.4" r="4.1" fill="#FDB163" stroke="#c98a3a" stroke-width="0.3"/>
<circle cx="658.4" cy="66.4" r="4.1" fill="#FDB163" stroke="#c98a3a" stroke-width="0.3"/>
<circle cx="673.3" cy="66.4" r="4.1" fill="#FDB163" stroke="#c98a3a" stroke-width="0.3"/>
<circle cx="641.7" cy="74.5" r="4.1" fill="#FDB163" stroke="#c98a3a" stroke-width="0.3"/>
<circle cx="658.4" cy="74.5" r="4.1" fill="#FDB163" stroke="#c98a3a" stroke-width="0.3"/>
<circle cx="673.3" cy="74.5" r="4.1" fill="#FDB163" stroke="#c98a3a" stroke-width="0.3"/>
<text transform="translate(538.20,79.30) rotate(-90)" font-size="8" fill="#1a1a1a">V1080fs</text>
<text transform="translate(547.80,79.30) rotate(-90)" font-size="8" fill="#1a1a1a">G1136fs</text>
<text transform="translate(557.60,79.30) rotate(-90)" font-size="8" fill="#1a1a1a">R1194fs</text>
<text transform="translate(597.00,79.30) rotate(-90)" font-size="8" fill="#1a1a1a">E1423X</text>
<text transform="translate(605.30,79.30) rotate(-90)" font-size="8" fill="#1a1a1a">T1474A</text>
<text transform="translate(629.50,51.60) rotate(-90)" font-size="8" fill="#1a1a1a">D1709N</text>
<text transform="translate(644.80,59.80) rotate(-90)" font-size="8" fill="#1a1a1a">E1705K</text>
<text transform="translate(661.50,59.80) rotate(-90)" font-size="8" fill="#1a1a1a">D1810H/Y</text>
<text transform="translate(676.40,59.80) rotate(-90)" font-size="8" fill="#1a1a1a">E1813A/G</text>
<text x="344.8" y="162.30" font-size="11" font-weight="bold">d</text>
<text x="380.3" y="169.70" font-size="7.8" font-weight="bold" fill="#111">Rhabdomyosarcoma <tspan font-style="italic">DICER1</tspan>-mut (<tspan font-style="italic">n</tspan> = 9)</text>
<line x1="406.69" y1="179.30" x2="406.69" y2="279.30" stroke="#111" stroke-width="0.8"/>
<line x1="394.53" y1="179.30" x2="394.53" y2="279.30" stroke="#111" stroke-width="0.8" stroke-dasharray="2.6 2.55"/>
<line x1="393.55" y1="279.30" x2="393.55" y2="281.60" stroke="#333" stroke-width="0.7"/>
<text transform="translate(393.55,288.90) scale(0.7,1)" font-size="7.6" text-anchor="middle" fill="#333">1</text>
<line x1="432.35" y1="179.30" x2="432.35" y2="279.30" stroke="#111" stroke-width="0.8"/>
<line x1="416.53" y1="179.30" x2="416.53" y2="279.30" stroke="#111" stroke-width="0.8" stroke-dasharray="2.6 2.55"/>
<line x1="419.52" y1="279.30" x2="419.52" y2="281.60" stroke="#333" stroke-width="0.7"/>
<text transform="translate(419.52,288.90) scale(0.7,1)" font-size="7.6" text-anchor="middle" fill="#333">2</text>
<line x1="453.23" y1="179.30" x2="453.23" y2="279.30" stroke="#111" stroke-width="0.8"/>
<line x1="441.94" y1="179.30" x2="441.94" y2="279.30" stroke="#111" stroke-width="0.8" stroke-dasharray="2.6 2.55"/>
<line x1="442.79" y1="279.30" x2="442.79" y2="281.60" stroke="#333" stroke-width="0.7"/>
<text transform="translate(442.79,288.90) scale(0.7,1)" font-size="7.6" text-anchor="middle" fill="#333">3</text>
<line x1="473.40" y1="179.30" x2="473.40" y2="279.30" stroke="#111" stroke-width="0.8"/>
<line x1="458.55" y1="179.30" x2="458.55" y2="279.30" stroke="#111" stroke-width="0.8" stroke-dasharray="2.6 2.55"/>
<line x1="463.31" y1="279.30" x2="463.31" y2="281.60" stroke="#333" stroke-width="0.7"/>
<text transform="translate(463.31,288.90) scale(0.7,1)" font-size="7.6" text-anchor="middle" fill="#333">4</text>
<line x1="492.48" y1="179.30" x2="492.48" y2="279.30" stroke="#111" stroke-width="0.8"/>
<line x1="478.50" y1="179.30" x2="478.50" y2="279.30" stroke="#111" stroke-width="0.8" stroke-dasharray="2.6 2.55"/>
<line x1="482.94" y1="279.30" x2="482.94" y2="281.60" stroke="#333" stroke-width="0.7"/>
<text transform="translate(482.94,288.90) scale(0.7,1)" font-size="7.6" text-anchor="middle" fill="#333">5</text>
<line x1="510.53" y1="179.30" x2="510.53" y2="279.30" stroke="#111" stroke-width="0.8"/>
<line x1="498.91" y1="179.30" x2="498.91" y2="279.30" stroke="#111" stroke-width="0.8" stroke-dasharray="2.6 2.55"/>
<line x1="501.51" y1="279.30" x2="501.51" y2="281.60" stroke="#333" stroke-width="0.7"/>
<text transform="translate(501.51,288.90) scale(0.7,1)" font-size="7.6" text-anchor="middle" fill="#333">6</text>
<line x1="527.32" y1="179.30" x2="527.32" y2="279.30" stroke="#111" stroke-width="0.8"/>
<line x1="516.85" y1="179.30" x2="516.85" y2="279.30" stroke="#111" stroke-width="0.8" stroke-dasharray="2.6 2.55"/>
<line x1="518.92" y1="279.30" x2="518.92" y2="281.60" stroke="#333" stroke-width="0.7"/>
<text transform="translate(518.92,288.90) scale(0.7,1)" font-size="7.6" text-anchor="middle" fill="#333">7</text>
<line x1="542.76" y1="179.30" x2="542.76" y2="279.30" stroke="#111" stroke-width="0.8"/>
<line x1="532.13" y1="179.30" x2="532.13" y2="279.30" stroke="#111" stroke-width="0.8" stroke-dasharray="2.6 2.55"/>
<line x1="535.04" y1="279.30" x2="535.04" y2="281.60" stroke="#333" stroke-width="0.7"/>
<text transform="translate(535.04,288.90) scale(0.7,1)" font-size="7.6" text-anchor="middle" fill="#333">8</text>
<line x1="557.65" y1="179.30" x2="557.65" y2="279.30" stroke="#111" stroke-width="0.8"/>
<line x1="547.92" y1="179.30" x2="547.92" y2="279.30" stroke="#111" stroke-width="0.8" stroke-dasharray="2.6 2.55"/>
<line x1="550.20" y1="279.30" x2="550.20" y2="281.60" stroke="#333" stroke-width="0.7"/>
<text transform="translate(550.20,288.90) scale(0.7,1)" font-size="7.6" text-anchor="middle" fill="#333">9</text>
<line x1="571.95" y1="179.30" x2="571.95" y2="279.30" stroke="#111" stroke-width="0.8"/>
<line x1="561.89" y1="179.30" x2="561.89" y2="279.30" stroke="#111" stroke-width="0.8" stroke-dasharray="2.6 2.55"/>
<line x1="564.80" y1="279.30" x2="564.80" y2="281.60" stroke="#333" stroke-width="0.7"/>
<text transform="translate(564.80,288.90) scale(0.7,1)" font-size="7.6" text-anchor="middle" fill="#333">10</text>
<line x1="586.19" y1="179.30" x2="586.19" y2="279.30" stroke="#111" stroke-width="0.8"/>
<line x1="577.61" y1="179.30" x2="577.61" y2="279.30" stroke="#111" stroke-width="0.8" stroke-dasharray="2.6 2.55"/>
<line x1="579.07" y1="279.30" x2="579.07" y2="281.60" stroke="#333" stroke-width="0.7"/>
<text transform="translate(579.07,288.90) scale(0.7,1)" font-size="7.6" text-anchor="middle" fill="#333">11</text>
<line x1="600.31" y1="179.30" x2="600.31" y2="279.30" stroke="#111" stroke-width="0.8"/>
<line x1="589.96" y1="179.30" x2="589.96" y2="279.30" stroke="#111" stroke-width="0.8" stroke-dasharray="2.6 2.55"/>
<line x1="593.25" y1="279.30" x2="593.25" y2="281.60" stroke="#333" stroke-width="0.7"/>
<text transform="translate(593.25,288.90) scale(0.7,1)" font-size="7.6" text-anchor="middle" fill="#333">12</text>
<line x1="612.46" y1="179.30" x2="612.46" y2="279.30" stroke="#111" stroke-width="0.8"/>
<line x1="602.20" y1="179.30" x2="602.20" y2="279.30" stroke="#111" stroke-width="0.8" stroke-dasharray="2.6 2.55"/>
<line x1="606.38" y1="279.30" x2="606.38" y2="281.60" stroke="#333" stroke-width="0.7"/>
<text transform="translate(606.38,288.90) scale(0.7,1)" font-size="7.6" text-anchor="middle" fill="#333">13</text>
<line x1="623.78" y1="179.30" x2="623.78" y2="279.30" stroke="#111" stroke-width="0.8"/>
<line x1="614.31" y1="179.30" x2="614.31" y2="279.30" stroke="#111" stroke-width="0.8" stroke-dasharray="2.6 2.55"/>
<line x1="618.12" y1="279.30" x2="618.12" y2="281.60" stroke="#333" stroke-width="0.7"/>
<text transform="translate(618.12,288.90) scale(0.7,1)" font-size="7.6" text-anchor="middle" fill="#333">14</text>
<line x1="634.59" y1="179.30" x2="634.59" y2="279.30" stroke="#111" stroke-width="0.8"/>
<line x1="625.78" y1="179.30" x2="625.78" y2="279.30" stroke="#111" stroke-width="0.8" stroke-dasharray="2.6 2.55"/>
<line x1="629.19" y1="279.30" x2="629.19" y2="281.60" stroke="#333" stroke-width="0.7"/>
<text transform="translate(629.19,288.90) scale(0.7,1)" font-size="7.6" text-anchor="middle" fill="#333">15</text>
<line x1="644.12" y1="179.30" x2="644.12" y2="279.30" stroke="#111" stroke-width="0.8"/>
<line x1="638.45" y1="179.30" x2="638.45" y2="279.30" stroke="#111" stroke-width="0.8" stroke-dasharray="2.6 2.55"/>
<line x1="639.36" y1="279.30" x2="639.36" y2="281.60" stroke="#333" stroke-width="0.7"/>
<text transform="translate(639.36,288.90) scale(0.62,1)" font-size="7.6" text-anchor="middle" fill="#333">16</text>
<line x1="652.69" y1="179.30" x2="652.69" y2="279.30" stroke="#111" stroke-width="0.8"/>
<line x1="646.66" y1="179.30" x2="646.66" y2="279.30" stroke="#111" stroke-width="0.8" stroke-dasharray="2.6 2.55"/>
<line x1="648.41" y1="279.30" x2="648.41" y2="281.60" stroke="#333" stroke-width="0.7"/>
<text transform="translate(648.41,288.90) scale(0.62,1)" font-size="7.6" text-anchor="middle" fill="#333">17</text>
<line x1="660.93" y1="179.30" x2="660.93" y2="279.30" stroke="#111" stroke-width="0.8"/>
<line x1="654.50" y1="179.30" x2="654.50" y2="279.30" stroke="#111" stroke-width="0.8" stroke-dasharray="2.6 2.55"/>
<line x1="656.81" y1="279.30" x2="656.81" y2="281.60" stroke="#333" stroke-width="0.7"/>
<text transform="translate(656.81,288.90) scale(0.62,1)" font-size="7.6" text-anchor="middle" fill="#333">18</text>
<line x1="667.16" y1="179.30" x2="667.16" y2="279.30" stroke="#111" stroke-width="0.8"/>
<line x1="663.72" y1="179.30" x2="663.72" y2="279.30" stroke="#111" stroke-width="0.8" stroke-dasharray="2.6 2.55"/>
<line x1="664.04" y1="279.30" x2="664.04" y2="281.60" stroke="#333" stroke-width="0.7"/>
<text transform="translate(664.04,288.90) scale(0.62,1)" font-size="7.6" text-anchor="middle" fill="#333">19</text>
<line x1="673.81" y1="179.30" x2="673.81" y2="279.30" stroke="#111" stroke-width="0.8"/>
<line x1="670.06" y1="179.30" x2="670.06" y2="279.30" stroke="#111" stroke-width="0.8" stroke-dasharray="2.6 2.55"/>
<line x1="670.49" y1="279.30" x2="670.49" y2="281.60" stroke="#333" stroke-width="0.7"/>
<text transform="translate(670.49,288.90) scale(0.62,1)" font-size="7.6" text-anchor="middle" fill="#333">20</text>
<line x1="678.89" y1="179.30" x2="678.89" y2="279.30" stroke="#111" stroke-width="0.8"/>
<line x1="675.20" y1="179.30" x2="675.20" y2="279.30" stroke="#111" stroke-width="0.8" stroke-dasharray="2.6 2.55"/>
<line x1="676.35" y1="279.30" x2="676.35" y2="281.60" stroke="#333" stroke-width="0.7"/>
<text transform="translate(676.35,288.90) scale(0.62,1)" font-size="7.6" text-anchor="middle" fill="#333">21</text>
<line x1="680.44" y1="179.30" x2="680.44" y2="279.30" stroke="#111" stroke-width="0.8" stroke-dasharray="2.6 2.55"/>
<line x1="681.59" y1="279.30" x2="681.59" y2="281.60" stroke="#333" stroke-width="0.7"/>
<text transform="translate(681.59,288.90) scale(0.62,1)" font-size="7.6" text-anchor="middle" fill="#333">22</text>
<path d="M406.70,229.30 L406.70,210.30 L409.40,210.30 L409.40,214.90 L411.80,214.90 L411.80,219.70 L432.30,219.70 L432.30,229.30 Z" fill="#D9302A" stroke="#2a2a2a" stroke-width="0.55"/>
<path d="M432.30,229.30 L432.30,224.60 L446.60,224.60 L446.60,219.70 L453.20,219.70 L453.20,229.30 Z" fill="#D9302A" stroke="#2a2a2a" stroke-width="0.55"/>
<path d="M510.50,229.30 L510.50,224.60 L515.60,224.60 L515.60,229.30 Z" fill="#D9302A" stroke="#2a2a2a" stroke-width="0.55"/>
<path d="M527.30,229.30 L527.30,210.30 L539.50,210.30 L539.50,205.50 L542.80,205.50 L542.80,229.30 Z" fill="#D9302A" stroke="#2a2a2a" stroke-width="0.55"/>
<path d="M552.10,229.30 L552.10,224.60 L557.70,224.60 L557.70,229.30 Z" fill="#D9302A" stroke="#2a2a2a" stroke-width="0.55"/>
<path d="M586.20,229.30 L586.20,224.60 L600.30,224.60 L600.30,229.30 Z" fill="#D9302A" stroke="#2a2a2a" stroke-width="0.55"/>
<path d="M605.80,229.30 L605.80,224.60 L612.50,224.60 L612.50,229.30 Z" fill="#D9302A" stroke="#2a2a2a" stroke-width="0.55"/>
<rect x="381.30" y="224.60" width="1.20" height="4.70" fill="#8a8a8a"/>
<rect x="394.60" y="224.60" width="1.20" height="4.70" fill="#8a8a8a"/>
<rect x="407.60" y="210.30" width="1.20" height="4.60" fill="#111"/>
<rect x="416.40" y="219.70" width="1.20" height="4.90" fill="#111"/>
<rect x="447.30" y="214.90" width="3.40" height="4.80" fill="#8a8a8a"/>
<rect x="441.65" y="219.70" width="0.90" height="9.60" fill="#111"/>
<rect x="497.60" y="224.60" width="1.00" height="4.70" fill="#111"/>
<rect x="531.40" y="210.30" width="1.00" height="4.60" fill="#111"/>
<rect x="538.30" y="210.30" width="1.00" height="4.60" fill="#111"/>
<rect x="559.50" y="224.60" width="1.00" height="4.70" fill="#8a8a8a"/>
<rect x="561.60" y="224.60" width="0.80" height="4.70" fill="#444"/>
<rect x="619.20" y="224.60" width="0.80" height="4.70" fill="#111"/>
<rect x="664.30" y="224.10" width="1.80" height="5.20" fill="#6b1a10"/>
<rect x="380.10" y="229.30" width="1.00" height="10.00" fill="#111"/>
<rect x="387.20" y="229.30" width="1.00" height="4.50" fill="#8a8a8a"/>
<rect x="395.70" y="229.30" width="1.20" height="14.00" fill="#8a8a8a"/>
<rect x="402.15" y="229.30" width="0.90" height="4.50" fill="#111"/>
<rect x="410.50" y="229.30" width="1.20" height="13.50" fill="#8a8a8a"/>
<rect x="411.70" y="229.30" width="1.00" height="6.00" fill="#8a8a8a"/>
<rect x="414.10" y="229.30" width="1.00" height="9.00" fill="#111"/>
<rect x="415.90" y="229.30" width="1.00" height="4.50" fill="#8a8a8a"/>
<rect x="422.30" y="229.30" width="1.00" height="4.50" fill="#8a8a8a"/>
<rect x="433.65" y="229.30" width="0.90" height="4.50" fill="#111"/>
<rect x="440.95" y="229.30" width="0.90" height="4.50" fill="#111"/>
<rect x="444.05" y="229.30" width="0.90" height="4.20" fill="#111"/>
<rect x="450.90" y="229.30" width="1.00" height="9.30" fill="#8a8a8a"/>
<rect x="453.65" y="229.30" width="0.90" height="4.50" fill="#111"/>
<rect x="455.60" y="229.30" width="1.20" height="4.50" fill="#7fb2d8"/>
<rect x="456.45" y="229.30" width="0.90" height="8.60" fill="#8a8a8a"/>
<rect x="460.15" y="229.30" width="0.90" height="4.50" fill="#111"/>
<rect x="474.90" y="229.30" width="1.20" height="4.50" fill="#7fb2d8"/>
<rect x="481.95" y="229.30" width="0.90" height="4.50" fill="#111"/>
<rect x="488.50" y="229.30" width="2.60" height="9.30" fill="#111"/>
<rect x="494.25" y="229.30" width="0.90" height="4.50" fill="#111"/>
<rect x="495.00" y="229.30" width="0.80" height="18.30" fill="#111"/>
<rect x="510.45" y="229.30" width="0.90" height="4.50" fill="#111"/>
<rect x="513.75" y="229.30" width="0.90" height="4.50" fill="#111"/>
<rect x="518.25" y="229.30" width="1.10" height="8.60" fill="#8a8a8a"/>
<rect x="522.85" y="229.30" width="0.90" height="9.30" fill="#111"/>
<rect x="525.80" y="229.30" width="1.20" height="4.50" fill="#7fb2d8"/>
<rect x="526.95" y="229.30" width="0.90" height="23.00" fill="#8a8a8a"/>
<rect x="539.05" y="229.30" width="0.90" height="4.50" fill="#111"/>
<rect x="543.40" y="229.30" width="1.20" height="4.50" fill="#7fb2d8"/>
<rect x="542.60" y="229.30" width="1.20" height="4.50" fill="#8a8a8a"/>
<rect x="554.75" y="229.30" width="0.90" height="9.30" fill="#111"/>
<rect x="557.45" y="229.30" width="0.90" height="4.50" fill="#111"/>
<rect x="564.35" y="229.30" width="0.90" height="4.50" fill="#111"/>
<rect x="565.75" y="229.30" width="0.90" height="5.20" fill="#8a8a8a"/>
<rect x="568.20" y="229.30" width="1.00" height="9.30" fill="#8a8a8a"/>
<rect x="571.50" y="229.30" width="1.20" height="13.00" fill="#111"/>
<rect x="576.75" y="229.30" width="0.90" height="13.50" fill="#111"/>
<rect x="580.00" y="229.30" width="1.00" height="9.00" fill="#111"/>
<rect x="582.35" y="229.30" width="3.10" height="4.50" fill="#7fb2d8"/>
<rect x="583.10" y="229.30" width="2.40" height="9.00" fill="#7fb2d8"/>
<rect x="584.75" y="229.30" width="0.90" height="18.30" fill="#111"/>
<rect x="590.10" y="229.30" width="2.20" height="4.50" fill="#8a8a8a"/>
<rect x="594.75" y="229.30" width="0.90" height="4.50" fill="#111"/>
<rect x="606.50" y="229.30" width="1.20" height="4.50" fill="#7fb2d8"/>
<rect x="610.85" y="229.30" width="0.90" height="4.50" fill="#111"/>
<rect x="614.95" y="229.30" width="0.90" height="4.50" fill="#111"/>
<rect x="620.05" y="229.30" width="0.90" height="4.50" fill="#111"/>
<rect x="633.40" y="229.30" width="3.40" height="4.50" fill="#111"/>
<rect x="638.05" y="229.30" width="0.90" height="4.50" fill="#111"/>
<rect x="643.70" y="229.30" width="1.20" height="9.30" fill="#7fb2d8"/>
<rect x="647.65" y="229.30" width="0.90" height="4.50" fill="#111"/>
<rect x="651.15" y="229.30" width="0.90" height="4.50" fill="#111"/>
<rect x="651.85" y="229.30" width="0.90" height="10.00" fill="#111"/>
<rect x="656.90" y="229.30" width="2.80" height="4.50" fill="#7fb2d8"/>
<rect x="659.85" y="229.30" width="0.90" height="9.30" fill="#111"/>
<rect x="665.00" y="229.30" width="1.20" height="4.50" fill="#7fb2d8"/>
<rect x="666.75" y="229.30" width="0.90" height="13.50" fill="#111"/>
<rect x="674.10" y="229.30" width="1.40" height="12.00" fill="#8a8a8a"/>
<rect x="675.20" y="229.30" width="0.80" height="4.50" fill="#111"/>
<line x1="380.40" y1="229.30" x2="684.30" y2="229.30" stroke="#000" stroke-width="1.4"/>
<rect x="380.40" y="179.30" width="303.90" height="100.00" fill="none" stroke="#111" stroke-width="0.8"/>
<line x1="377.80" y1="229.30" x2="380.40" y2="229.30" stroke="#333" stroke-width="0.7"/>
<text x="377.00" y="231.60" font-size="6.6" text-anchor="end" fill="#333">0</text>
<line x1="377.80" y1="219.30" x2="380.40" y2="219.30" stroke="#333" stroke-width="0.7"/>
<text x="377.00" y="221.60" font-size="6.6" text-anchor="end" fill="#333">20</text>
<line x1="377.80" y1="239.30" x2="380.40" y2="239.30" stroke="#333" stroke-width="0.7"/>
<text x="377.00" y="241.60" font-size="6.6" text-anchor="end" fill="#333">20</text>
<line x1="377.80" y1="209.30" x2="380.40" y2="209.30" stroke="#333" stroke-width="0.7"/>
<text x="377.00" y="211.60" font-size="6.6" text-anchor="end" fill="#333">40</text>
<line x1="377.80" y1="249.30" x2="380.40" y2="249.30" stroke="#333" stroke-width="0.7"/>
<text x="377.00" y="251.60" font-size="6.6" text-anchor="end" fill="#333">40</text>
<line x1="377.80" y1="199.30" x2="380.40" y2="199.30" stroke="#333" stroke-width="0.7"/>
<text x="377.00" y="201.60" font-size="6.6" text-anchor="end" fill="#333">60</text>
<line x1="377.80" y1="259.30" x2="380.40" y2="259.30" stroke="#333" stroke-width="0.7"/>
<text x="377.00" y="261.60" font-size="6.6" text-anchor="end" fill="#333">60</text>
<line x1="377.80" y1="189.30" x2="380.40" y2="189.30" stroke="#333" stroke-width="0.7"/>
<text x="377.00" y="191.60" font-size="6.6" text-anchor="end" fill="#333">80</text>
<line x1="377.80" y1="269.30" x2="380.40" y2="269.30" stroke="#333" stroke-width="0.7"/>
<text x="377.00" y="271.60" font-size="6.6" text-anchor="end" fill="#333">80</text>
<line x1="377.80" y1="179.30" x2="380.40" y2="179.30" stroke="#333" stroke-width="0.7"/>
<text x="377.00" y="181.60" font-size="6.6" text-anchor="end" fill="#333">100</text>
<line x1="377.80" y1="279.30" x2="380.40" y2="279.30" stroke="#333" stroke-width="0.7"/>
<text x="377.00" y="281.60" font-size="6.6" text-anchor="end" fill="#333">100</text>
<text transform="translate(357.60,229.30) rotate(-90)" font-size="7.95" text-anchor="middle" fill="#1a1a1a">rate of alterations (%)</text>
<text x="344.8" y="307.30" font-size="11" font-weight="bold">e</text>
<text x="380.3" y="314.70" font-size="7.8" font-weight="bold" fill="#111">Rhabdomyosarcoma <tspan font-style="italic">DICER1</tspan>-wt (<tspan font-style="italic">n</tspan> = 8)</text>
<line x1="406.69" y1="324.30" x2="406.69" y2="424.30" stroke="#111" stroke-width="0.8"/>
<line x1="394.53" y1="324.30" x2="394.53" y2="424.30" stroke="#111" stroke-width="0.8" stroke-dasharray="2.6 2.55"/>
<line x1="393.55" y1="424.30" x2="393.55" y2="426.60" stroke="#333" stroke-width="0.7"/>
<text transform="translate(393.55,433.90) scale(0.7,1)" font-size="7.6" text-anchor="middle" fill="#333">1</text>
<line x1="432.35" y1="324.30" x2="432.35" y2="424.30" stroke="#111" stroke-width="0.8"/>
<line x1="416.53" y1="324.30" x2="416.53" y2="424.30" stroke="#111" stroke-width="0.8" stroke-dasharray="2.6 2.55"/>
<line x1="419.52" y1="424.30" x2="419.52" y2="426.60" stroke="#333" stroke-width="0.7"/>
<text transform="translate(419.52,433.90) scale(0.7,1)" font-size="7.6" text-anchor="middle" fill="#333">2</text>
<line x1="453.23" y1="324.30" x2="453.23" y2="424.30" stroke="#111" stroke-width="0.8"/>
<line x1="441.94" y1="324.30" x2="441.94" y2="424.30" stroke="#111" stroke-width="0.8" stroke-dasharray="2.6 2.55"/>
<line x1="442.79" y1="424.30" x2="442.79" y2="426.60" stroke="#333" stroke-width="0.7"/>
<text transform="translate(442.79,433.90) scale(0.7,1)" font-size="7.6" text-anchor="middle" fill="#333">3</text>
<line x1="473.40" y1="324.30" x2="473.40" y2="424.30" stroke="#111" stroke-width="0.8"/>
<line x1="458.55" y1="324.30" x2="458.55" y2="424.30" stroke="#111" stroke-width="0.8" stroke-dasharray="2.6 2.55"/>
<line x1="463.31" y1="424.30" x2="463.31" y2="426.60" stroke="#333" stroke-width="0.7"/>
<text transform="translate(463.31,433.90) scale(0.7,1)" font-size="7.6" text-anchor="middle" fill="#333">4</text>
<line x1="492.48" y1="324.30" x2="492.48" y2="424.30" stroke="#111" stroke-width="0.8"/>
<line x1="478.50" y1="324.30" x2="478.50" y2="424.30" stroke="#111" stroke-width="0.8" stroke-dasharray="2.6 2.55"/>
<line x1="482.94" y1="424.30" x2="482.94" y2="426.60" stroke="#333" stroke-width="0.7"/>
<text transform="translate(482.94,433.90) scale(0.7,1)" font-size="7.6" text-anchor="middle" fill="#333">5</text>
<line x1="510.53" y1="324.30" x2="510.53" y2="424.30" stroke="#111" stroke-width="0.8"/>
<line x1="498.91" y1="324.30" x2="498.91" y2="424.30" stroke="#111" stroke-width="0.8" stroke-dasharray="2.6 2.55"/>
<line x1="501.51" y1="424.30" x2="501.51" y2="426.60" stroke="#333" stroke-width="0.7"/>
<text transform="translate(501.51,433.90) scale(0.7,1)" font-size="7.6" text-anchor="middle" fill="#333">6</text>
<line x1="527.32" y1="324.30" x2="527.32" y2="424.30" stroke="#111" stroke-width="0.8"/>
<line x1="516.85" y1="324.30" x2="516.85" y2="424.30" stroke="#111" stroke-width="0.8" stroke-dasharray="2.6 2.55"/>
<line x1="518.92" y1="424.30" x2="518.92" y2="426.60" stroke="#333" stroke-width="0.7"/>
<text transform="translate(518.92,433.90) scale(0.7,1)" font-size="7.6" text-anchor="middle" fill="#333">7</text>
<line x1="542.76" y1="324.30" x2="542.76" y2="424.30" stroke="#111" stroke-width="0.8"/>
<line x1="532.13" y1="324.30" x2="532.13" y2="424.30" stroke="#111" stroke-width="0.8" stroke-dasharray="2.6 2.55"/>
<line x1="535.04" y1="424.30" x2="535.04" y2="426.60" stroke="#333" stroke-width="0.7"/>
<text transform="translate(535.04,433.90) scale(0.7,1)" font-size="7.6" text-anchor="middle" fill="#333">8</text>
<line x1="557.65" y1="324.30" x2="557.65" y2="424.30" stroke="#111" stroke-width="0.8"/>
<line x1="547.92" y1="324.30" x2="547.92" y2="424.30" stroke="#111" stroke-width="0.8" stroke-dasharray="2.6 2.55"/>
<line x1="550.20" y1="424.30" x2="550.20" y2="426.60" stroke="#333" stroke-width="0.7"/>
<text transform="translate(550.20,433.90) scale(0.7,1)" font-size="7.6" text-anchor="middle" fill="#333">9</text>
<line x1="571.95" y1="324.30" x2="571.95" y2="424.30" stroke="#111" stroke-width="0.8"/>
<line x1="561.89" y1="324.30" x2="561.89" y2="424.30" stroke="#111" stroke-width="0.8" stroke-dasharray="2.6 2.55"/>
<line x1="564.80" y1="424.30" x2="564.80" y2="426.60" stroke="#333" stroke-width="0.7"/>
<text transform="translate(564.80,433.90) scale(0.7,1)" font-size="7.6" text-anchor="middle" fill="#333">10</text>
<line x1="586.19" y1="324.30" x2="586.19" y2="424.30" stroke="#111" stroke-width="0.8"/>
<line x1="577.61" y1="324.30" x2="577.61" y2="424.30" stroke="#111" stroke-width="0.8" stroke-dasharray="2.6 2.55"/>
<line x1="579.07" y1="424.30" x2="579.07" y2="426.60" stroke="#333" stroke-width="0.7"/>
<text transform="translate(579.07,433.90) scale(0.7,1)" font-size="7.6" text-anchor="middle" fill="#333">11</text>
<line x1="600.31" y1="324.30" x2="600.31" y2="424.30" stroke="#111" stroke-width="0.8"/>
<line x1="589.96" y1="324.30" x2="589.96" y2="424.30" stroke="#111" stroke-width="0.8" stroke-dasharray="2.6 2.55"/>
<line x1="593.25" y1="424.30" x2="593.25" y2="426.60" stroke="#333" stroke-width="0.7"/>
<text transform="translate(593.25,433.90) scale(0.7,1)" font-size="7.6" text-anchor="middle" fill="#333">12</text>
<line x1="612.46" y1="324.30" x2="612.46" y2="424.30" stroke="#111" stroke-width="0.8"/>
<line x1="602.20" y1="324.30" x2="602.20" y2="424.30" stroke="#111" stroke-width="0.8" stroke-dasharray="2.6 2.55"/>
<line x1="606.38" y1="424.30" x2="606.38" y2="426.60" stroke="#333" stroke-width="0.7"/>
<text transform="translate(606.38,433.90) scale(0.7,1)" font-size="7.6" text-anchor="middle" fill="#333">13</text>
<line x1="623.78" y1="324.30" x2="623.78" y2="424.30" stroke="#111" stroke-width="0.8"/>
<line x1="614.31" y1="324.30" x2="614.31" y2="424.30" stroke="#111" stroke-width="0.8" stroke-dasharray="2.6 2.55"/>
<line x1="618.12" y1="424.30" x2="618.12" y2="426.60" stroke="#333" stroke-width="0.7"/>
<text transform="translate(618.12,433.90) scale(0.7,1)" font-size="7.6" text-anchor="middle" fill="#333">14</text>
<line x1="634.59" y1="324.30" x2="634.59" y2="424.30" stroke="#111" stroke-width="0.8"/>
<line x1="625.78" y1="324.30" x2="625.78" y2="424.30" stroke="#111" stroke-width="0.8" stroke-dasharray="2.6 2.55"/>
<line x1="629.19" y1="424.30" x2="629.19" y2="426.60" stroke="#333" stroke-width="0.7"/>
<text transform="translate(629.19,433.90) scale(0.7,1)" font-size="7.6" text-anchor="middle" fill="#333">15</text>
<line x1="644.12" y1="324.30" x2="644.12" y2="424.30" stroke="#111" stroke-width="0.8"/>
<line x1="638.45" y1="324.30" x2="638.45" y2="424.30" stroke="#111" stroke-width="0.8" stroke-dasharray="2.6 2.55"/>
<line x1="639.36" y1="424.30" x2="639.36" y2="426.60" stroke="#333" stroke-width="0.7"/>
<text transform="translate(639.36,433.90) scale(0.62,1)" font-size="7.6" text-anchor="middle" fill="#333">16</text>
<line x1="652.69" y1="324.30" x2="652.69" y2="424.30" stroke="#111" stroke-width="0.8"/>
<line x1="646.66" y1="324.30" x2="646.66" y2="424.30" stroke="#111" stroke-width="0.8" stroke-dasharray="2.6 2.55"/>
<line x1="648.41" y1="424.30" x2="648.41" y2="426.60" stroke="#333" stroke-width="0.7"/>
<text transform="translate(648.41,433.90) scale(0.62,1)" font-size="7.6" text-anchor="middle" fill="#333">17</text>
<line x1="660.93" y1="324.30" x2="660.93" y2="424.30" stroke="#111" stroke-width="0.8"/>
<line x1="654.50" y1="324.30" x2="654.50" y2="424.30" stroke="#111" stroke-width="0.8" stroke-dasharray="2.6 2.55"/>
<line x1="656.81" y1="424.30" x2="656.81" y2="426.60" stroke="#333" stroke-width="0.7"/>
<text transform="translate(656.81,433.90) scale(0.62,1)" font-size="7.6" text-anchor="middle" fill="#333">18</text>
<line x1="667.16" y1="324.30" x2="667.16" y2="424.30" stroke="#111" stroke-width="0.8"/>
<line x1="663.72" y1="324.30" x2="663.72" y2="424.30" stroke="#111" stroke-width="0.8" stroke-dasharray="2.6 2.55"/>
<line x1="664.04" y1="424.30" x2="664.04" y2="426.60" stroke="#333" stroke-width="0.7"/>
<text transform="translate(664.04,433.90) scale(0.62,1)" font-size="7.6" text-anchor="middle" fill="#333">19</text>
<line x1="673.81" y1="324.30" x2="673.81" y2="424.30" stroke="#111" stroke-width="0.8"/>
<line x1="670.06" y1="324.30" x2="670.06" y2="424.30" stroke="#111" stroke-width="0.8" stroke-dasharray="2.6 2.55"/>
<line x1="670.49" y1="424.30" x2="670.49" y2="426.60" stroke="#333" stroke-width="0.7"/>
<text transform="translate(670.49,433.90) scale(0.62,1)" font-size="7.6" text-anchor="middle" fill="#333">20</text>
<line x1="678.89" y1="324.30" x2="678.89" y2="424.30" stroke="#111" stroke-width="0.8"/>
<line x1="675.20" y1="324.30" x2="675.20" y2="424.30" stroke="#111" stroke-width="0.8" stroke-dasharray="2.6 2.55"/>
<line x1="676.35" y1="424.30" x2="676.35" y2="426.60" stroke="#333" stroke-width="0.7"/>
<text transform="translate(676.35,433.90) scale(0.62,1)" font-size="7.6" text-anchor="middle" fill="#333">21</text>
<line x1="680.44" y1="324.30" x2="680.44" y2="424.30" stroke="#111" stroke-width="0.8" stroke-dasharray="2.6 2.55"/>
<line x1="681.59" y1="424.30" x2="681.59" y2="426.60" stroke="#333" stroke-width="0.7"/>
<text transform="translate(681.59,433.90) scale(0.62,1)" font-size="7.6" text-anchor="middle" fill="#333">22</text>
<path d="M380.50,374.30 L380.50,368.10 L392.90,368.10 L392.90,374.30 Z" fill="#D9302A" stroke="#2a2a2a" stroke-width="0.55"/>
<path d="M395.20,374.30 L395.20,355.70 L396.50,355.70 L396.50,361.90 L406.70,361.90 L406.70,374.30 Z" fill="#D9302A" stroke="#2a2a2a" stroke-width="0.55"/>
<path d="M406.70,374.30 L406.70,343.30 L413.00,343.30 L413.00,337.10 L415.40,337.10 L415.40,343.30 L417.30,343.30 L417.30,349.50 L426.00,349.50 L426.00,355.70 L432.30,355.70 L432.30,374.30 Z" fill="#D9302A" stroke="#2a2a2a" stroke-width="0.55"/>
<path d="M445.50,374.30 L445.50,368.10 L447.20,368.10 L447.20,361.90 L452.40,361.90 L452.40,368.10 L453.23,368.10 L453.23,374.30 Z" fill="#D9302A" stroke="#2a2a2a" stroke-width="0.55"/>
<path d="M453.23,374.30 L453.23,368.10 L458.20,368.10 L458.20,374.30 Z" fill="#D9302A" stroke="#2a2a2a" stroke-width="0.55"/>
<path d="M473.70,374.30 L473.70,361.90 L481.70,361.90 L481.70,368.10 L487.50,368.10 L487.50,368.10 L490.60,368.10 L490.60,361.90 L492.50,361.90 L492.50,374.30 Z" fill="#D9302A" stroke="#2a2a2a" stroke-width="0.55"/>
<path d="M492.50,374.30 L492.50,368.10 L510.30,368.10 L510.30,374.30 Z" fill="#D9302A" stroke="#2a2a2a" stroke-width="0.55"/>
<path d="M510.50,374.30 L510.50,349.50 L524.10,349.50 L524.10,355.70 L526.60,355.70 L526.60,349.50 L527.30,349.50 L527.30,374.30 Z" fill="#D9302A" stroke="#2a2a2a" stroke-width="0.55"/>
<path d="M527.30,374.30 L527.30,330.90 L542.80,330.90 L542.80,374.30 Z" fill="#D9302A" stroke="#2a2a2a" stroke-width="0.55"/>
<path d="M572.00,374.30 L572.00,361.90 L576.80,361.90 L576.80,355.70 L582.00,355.70 L582.00,361.90 L586.20,361.90 L586.20,374.30 Z" fill="#D9302A" stroke="#2a2a2a" stroke-width="0.55"/>
<path d="M586.20,374.30 L586.20,343.30 L600.20,343.30 L600.20,374.30 Z" fill="#D9302A" stroke="#2a2a2a" stroke-width="0.55"/>
<path d="M601.90,374.30 L601.90,343.30 L603.30,343.30 L603.30,349.50 L612.50,349.50 L612.50,374.30 Z" fill="#D9302A" stroke="#2a2a2a" stroke-width="0.55"/>
<path d="M648.40,374.30 L648.40,361.90 L651.30,361.90 L651.30,355.70 L652.70,355.70 L652.70,374.30 Z" fill="#D9302A" stroke="#2a2a2a" stroke-width="0.55"/>
<path d="M661.10,374.30 L661.10,355.70 L664.00,355.70 L664.00,349.50 L667.16,349.50 L667.16,374.30 Z" fill="#D9302A" stroke="#2a2a2a" stroke-width="0.55"/>
<path d="M667.16,374.30 L667.16,349.50 L670.30,349.50 L670.30,343.30 L673.70,343.30 L673.70,374.30 Z" fill="#D9302A" stroke="#2a2a2a" stroke-width="0.55"/>
<path d="M675.50,374.30 L675.50,355.70 L678.30,355.70 L678.30,374.30 Z" fill="#D9302A" stroke="#2a2a2a" stroke-width="0.55"/>
<path d="M680.60,374.30 L680.60,368.10 L682.00,368.10 L682.00,374.30 Z" fill="#D9302A" stroke="#2a2a2a" stroke-width="0.55"/>
<path d="M380.50,374.30 L380.50,386.70 L386.00,386.70 L386.00,392.90 L392.90,392.90 L392.90,374.30 Z" fill="#92C2E4" stroke="#2a2a2a" stroke-width="0.55"/>
<path d="M395.20,374.30 L395.20,380.50 L397.00,380.50 L397.00,386.70 L405.50,386.70 L405.50,380.50 L406.70,380.50 L406.70,374.30 Z" fill="#92C2E4" stroke="#2a2a2a" stroke-width="0.55"/>
<path d="M406.70,374.30 L406.70,380.50 L432.35,380.50 L432.35,374.30 Z" fill="#92C2E4" stroke="#2a2a2a" stroke-width="0.55"/>
<path d="M432.35,374.30 L432.35,380.50 L440.30,380.50 L440.30,392.90 L442.60,392.90 L442.60,380.50 L447.20,380.50 L447.20,386.70 L453.20,386.70 L453.20,374.30 Z" fill="#92C2E4" stroke="#2a2a2a" stroke-width="0.55"/>
<path d="M453.20,374.30 L453.20,380.50 L459.70,380.50 L459.70,386.70 L473.40,386.70 L473.40,374.30 Z" fill="#92C2E4" stroke="#2a2a2a" stroke-width="0.55"/>
<path d="M473.40,374.30 L473.40,386.70 L474.80,386.70 L474.80,380.50 L489.10,380.50 L489.10,386.70 L492.50,386.70 L492.50,374.30 Z" fill="#92C2E4" stroke="#2a2a2a" stroke-width="0.55"/>
<path d="M492.50,374.30 L492.50,392.90 L496.40,392.90 L496.40,386.70 L497.80,386.70 L497.80,399.10 L504.70,399.10 L504.70,392.90 L510.50,392.90 L510.50,374.30 Z" fill="#92C2E4" stroke="#2a2a2a" stroke-width="0.55"/>
<path d="M510.50,374.30 L510.50,386.70 L523.60,386.70 L523.60,380.50 L527.30,380.50 L527.30,374.30 Z" fill="#92C2E4" stroke="#2a2a2a" stroke-width="0.55"/>
<path d="M542.80,374.30 L542.80,392.90 L545.00,392.90 L545.00,386.70 L557.70,386.70 L557.70,374.30 Z" fill="#92C2E4" stroke="#2a2a2a" stroke-width="0.55"/>
<path d="M557.70,374.30 L557.70,386.70 L571.90,386.70 L571.90,374.30 Z" fill="#92C2E4" stroke="#2a2a2a" stroke-width="0.55"/>
<path d="M571.90,374.30 L571.90,380.50 L586.19,380.50 L586.19,374.30 Z" fill="#92C2E4" stroke="#2a2a2a" stroke-width="0.55"/>
<path d="M586.19,374.30 L586.19,380.50 L600.30,380.50 L600.30,374.30 Z" fill="#92C2E4" stroke="#2a2a2a" stroke-width="0.55"/>
<path d="M602.30,374.30 L602.30,380.50 L606.70,380.50 L606.70,386.70 L609.60,386.70 L609.60,380.50 L612.30,380.50 L612.30,374.30 Z" fill="#92C2E4" stroke="#2a2a2a" stroke-width="0.55"/>
<path d="M614.30,374.30 L614.30,380.50 L616.00,380.50 L616.00,386.70 L620.80,386.70 L620.80,380.50 L623.60,380.50 L623.60,374.30 Z" fill="#92C2E4" stroke="#2a2a2a" stroke-width="0.55"/>
<path d="M625.70,374.30 L625.70,380.50 L627.20,380.50 L627.20,386.70 L634.60,386.70 L634.60,374.30 Z" fill="#92C2E4" stroke="#2a2a2a" stroke-width="0.55"/>
<path d="M634.60,374.30 L634.60,386.70 L642.30,386.70 L642.30,374.30 Z" fill="#92C2E4" stroke="#2a2a2a" stroke-width="0.55"/>
<path d="M643.40,374.30 L643.40,386.70 L644.12,386.70 L644.12,374.30 Z" fill="#92C2E4" stroke="#2a2a2a" stroke-width="0.55"/>
<path d="M644.12,374.30 L644.12,386.70 L652.70,386.70 L652.70,374.30 Z" fill="#92C2E4" stroke="#2a2a2a" stroke-width="0.55"/>
<path d="M652.70,374.30 L652.70,386.70 L657.20,386.70 L657.20,399.10 L660.90,399.10 L660.90,374.30 Z" fill="#92C2E4" stroke="#2a2a2a" stroke-width="0.55"/>
<path d="M660.90,374.30 L660.90,380.50 L667.00,380.50 L667.00,374.30 Z" fill="#92C2E4" stroke="#2a2a2a" stroke-width="0.55"/>
<path d="M674.40,374.30 L674.40,386.70 L678.80,386.70 L678.80,374.30 Z" fill="#92C2E4" stroke="#2a2a2a" stroke-width="0.55"/>
<path d="M680.30,374.30 L680.30,386.70 L684.00,386.70 L684.00,374.30 Z" fill="#92C2E4" stroke="#2a2a2a" stroke-width="0.55"/>
<rect x="381.40" y="361.90" width="1.20" height="6.20" fill="#8a8a8a"/>
<rect x="395.10" y="349.50" width="1.00" height="6.20" fill="#8a8a8a"/>
<rect x="410.30" y="343.30" width="1.00" height="6.20" fill="#111"/>
<rect x="417.20" y="343.30" width="2.00" height="6.20" fill="#111"/>
<rect x="419.90" y="343.30" width="1.80" height="6.20" fill="#111"/>
<rect x="422.80" y="343.30" width="2.20" height="6.20" fill="#8a8a8a"/>
<rect x="426.30" y="349.50" width="2.20" height="6.20" fill="#111"/>
<rect x="429.20" y="349.50" width="2.20" height="6.20" fill="#111"/>
<rect x="431.60" y="349.50" width="0.80" height="6.20" fill="#111"/>
<rect x="432.45" y="368.10" width="0.90" height="6.20" fill="#111"/>
<rect x="438.00" y="368.10" width="4.40" height="6.20" fill="#111"/>
<rect x="449.25" y="355.70" width="3.10" height="6.20" fill="#111"/>
<rect x="400.55" y="361.90" width="0.90" height="6.20" fill="#111"/>
<rect x="475.60" y="361.90" width="0.80" height="6.20" fill="#8a8a8a"/>
<rect x="488.00" y="361.90" width="1.00" height="6.20" fill="#8a8a8a"/>
<rect x="495.40" y="361.90" width="1.00" height="6.20" fill="#8a8a8a"/>
<rect x="508.20" y="368.10" width="0.80" height="6.20" fill="#333"/>
<rect x="512.75" y="349.50" width="0.90" height="6.20" fill="#111"/>
<rect x="516.15" y="349.50" width="0.90" height="12.40" fill="#111"/>
<rect x="529.20" y="330.90" width="0.80" height="6.20" fill="#111"/>
<rect x="530.60" y="330.90" width="0.80" height="6.20" fill="#111"/>
<rect x="532.00" y="330.90" width="0.80" height="6.20" fill="#111"/>
<rect x="533.40" y="330.90" width="0.80" height="6.20" fill="#111"/>
<rect x="534.80" y="330.90" width="0.80" height="6.20" fill="#111"/>
<rect x="537.10" y="330.90" width="0.80" height="6.20" fill="#111"/>
<rect x="538.30" y="330.90" width="0.80" height="6.20" fill="#111"/>
<rect x="540.80" y="330.90" width="0.80" height="6.20" fill="#111"/>
<rect x="541.80" y="330.90" width="0.80" height="6.20" fill="#111"/>
<rect x="531.10" y="327.80" width="1.00" height="3.10" fill="#8a8a8a"/>
<rect x="557.80" y="368.10" width="0.80" height="6.20" fill="#111"/>
<rect x="561.40" y="368.10" width="0.80" height="6.20" fill="#111"/>
<rect x="569.30" y="368.10" width="0.80" height="6.20" fill="#111"/>
<rect x="574.60" y="361.90" width="0.80" height="6.20" fill="#111"/>
<rect x="577.60" y="355.70" width="0.80" height="6.20" fill="#111"/>
<rect x="579.10" y="355.70" width="0.80" height="6.20" fill="#111"/>
<rect x="580.60" y="355.70" width="0.80" height="6.20" fill="#111"/>
<rect x="583.90" y="361.90" width="0.80" height="6.20" fill="#111"/>
<rect x="585.40" y="361.90" width="0.80" height="6.20" fill="#111"/>
<rect x="587.10" y="343.30" width="1.00" height="6.20" fill="#111"/>
<rect x="588.50" y="343.30" width="0.80" height="6.20" fill="#333"/>
<rect x="589.70" y="343.30" width="1.00" height="6.20" fill="#111"/>
<rect x="591.20" y="343.30" width="0.80" height="6.20" fill="#333"/>
<rect x="592.15" y="343.30" width="0.90" height="6.20" fill="#111"/>
<rect x="588.95" y="349.50" width="0.90" height="6.20" fill="#111"/>
<rect x="596.85" y="343.30" width="2.70" height="6.20" fill="#8a8a8a"/>
<rect x="604.40" y="349.50" width="0.80" height="6.20" fill="#111"/>
<rect x="609.00" y="349.50" width="0.80" height="6.20" fill="#111"/>
<rect x="641.20" y="368.10" width="0.80" height="6.20" fill="#111"/>
<rect x="662.10" y="355.70" width="0.80" height="6.20" fill="#111"/>
<rect x="665.10" y="349.50" width="0.80" height="6.20" fill="#111"/>
<rect x="666.60" y="349.50" width="0.80" height="6.20" fill="#111"/>
<rect x="669.20" y="349.50" width="0.80" height="6.20" fill="#111"/>
<rect x="387.75" y="386.70" width="1.70" height="6.20" fill="#111"/>
<rect x="401.70" y="380.50" width="0.80" height="6.20" fill="#111"/>
<rect x="403.50" y="380.50" width="0.80" height="6.20" fill="#111"/>
<rect x="409.75" y="380.50" width="0.90" height="6.20" fill="#111"/>
<rect x="415.45" y="380.50" width="0.90" height="6.20" fill="#8a8a8a"/>
<rect x="422.35" y="380.50" width="0.90" height="6.20" fill="#111"/>
<rect x="425.85" y="380.50" width="0.90" height="6.20" fill="#111"/>
<rect x="410.75" y="374.30" width="1.70" height="6.20" fill="#111"/>
<rect x="415.95" y="374.30" width="1.70" height="6.20" fill="#111"/>
<rect x="431.10" y="380.50" width="1.80" height="6.20" fill="#111"/>
<rect x="432.20" y="380.50" width="0.80" height="12.40" fill="#111"/>
<rect x="437.00" y="380.50" width="1.00" height="6.20" fill="#8a8a8a"/>
<rect x="440.80" y="380.50" width="1.20" height="12.40" fill="#2a4a66"/>
<rect x="448.10" y="386.70" width="0.80" height="6.20" fill="#111"/>
<rect x="450.10" y="386.70" width="0.80" height="6.20" fill="#111"/>
<rect x="451.60" y="386.70" width="0.80" height="6.20" fill="#8a8a8a"/>
<rect x="455.85" y="380.50" width="1.70" height="12.40" fill="#111"/>
<rect x="467.00" y="386.70" width="0.80" height="1.24" fill="#111"/>
<rect x="469.00" y="386.70" width="1.80" height="6.20" fill="#8a8a8a"/>
<rect x="472.05" y="386.70" width="0.90" height="6.20" fill="#7fb2d8"/>
<rect x="474.95" y="380.50" width="0.90" height="12.40" fill="#111"/>
<rect x="485.80" y="380.50" width="1.00" height="6.20" fill="#8a8a8a"/>
<rect x="485.05" y="380.50" width="1.50" height="6.20" fill="#8a8a8a"/>
<rect x="498.05" y="386.70" width="0.90" height="12.40" fill="#111"/>
<rect x="492.50" y="386.70" width="0.80" height="6.20" fill="#111"/>
<rect x="507.90" y="392.90" width="0.80" height="0.00" fill="#111"/>
<rect x="503.60" y="392.90" width="0.80" height="6.20" fill="#111"/>
<rect x="510.50" y="380.50" width="2.00" height="6.20" fill="#111"/>
<rect x="516.40" y="380.50" width="1.60" height="6.20" fill="#8a8a8a"/>
<rect x="518.20" y="386.70" width="1.60" height="6.20" fill="#111"/>
<rect x="520.55" y="380.50" width="1.30" height="6.20" fill="#8a8a8a"/>
<rect x="544.15" y="392.90" width="0.90" height="6.20" fill="#111"/>
<rect x="553.20" y="380.50" width="2.20" height="6.20" fill="#111"/>
<rect x="559.10" y="386.70" width="0.80" height="6.20" fill="#111"/>
<rect x="561.10" y="386.70" width="0.80" height="6.20" fill="#8a8a8a"/>
<rect x="563.10" y="386.70" width="0.80" height="6.20" fill="#111"/>
<rect x="565.10" y="386.70" width="0.80" height="6.20" fill="#111"/>
<rect x="574.50" y="380.50" width="2.20" height="6.20" fill="#111"/>
<rect x="576.10" y="386.70" width="0.80" height="6.20" fill="#8a8a8a"/>
<rect x="580.20" y="374.30" width="1.20" height="6.20" fill="#111"/>
<rect x="587.60" y="380.50" width="0.80" height="6.20" fill="#8a8a8a"/>
<rect x="591.10" y="380.50" width="0.80" height="6.20" fill="#111"/>
<rect x="594.10" y="380.50" width="0.80" height="6.20" fill="#8a8a8a"/>
<rect x="596.00" y="380.50" width="0.80" height="6.20" fill="#111"/>
<rect x="598.00" y="380.50" width="0.80" height="6.20" fill="#111"/>
<rect x="606.50" y="380.50" width="1.80" height="6.20" fill="#111"/>
<rect x="610.10" y="380.50" width="0.80" height="4.96" fill="#111"/>
<rect x="614.50" y="380.50" width="1.40" height="8.06" fill="#111"/>
<rect x="625.90" y="380.50" width="1.20" height="6.20" fill="#111"/>
<rect x="628.60" y="386.70" width="0.80" height="3.72" fill="#111"/>
<rect x="637.95" y="377.40" width="1.30" height="9.30" fill="#4a5a68"/>
<rect x="640.60" y="377.40" width="1.20" height="9.30" fill="#4a5a68"/>
<rect x="643.90" y="386.70" width="1.00" height="9.30" fill="#111"/>
<rect x="647.75" y="380.50" width="0.90" height="20.46" fill="#111"/>
<rect x="650.70" y="380.50" width="0.80" height="12.40" fill="#111"/>
<rect x="653.70" y="386.70" width="3.00" height="7.44" fill="#111"/>
<rect x="657.40" y="386.70" width="0.80" height="12.40" fill="#111"/>
<rect x="675.40" y="374.30" width="1.60" height="12.40" fill="#111"/>
<rect x="677.10" y="374.30" width="1.40" height="12.40" fill="#8a8a8a"/>
<rect x="683.30" y="374.30" width="1.00" height="12.40" fill="#333"/>
<rect x="631.10" y="386.70" width="0.80" height="4.96" fill="#111"/>
<rect x="633.60" y="386.70" width="0.80" height="4.96" fill="#111"/>
<line x1="380.40" y1="374.30" x2="684.30" y2="374.30" stroke="#000" stroke-width="1.4"/>
<rect x="380.40" y="324.30" width="303.90" height="100.00" fill="none" stroke="#111" stroke-width="0.8"/>
<line x1="377.80" y1="374.30" x2="380.40" y2="374.30" stroke="#333" stroke-width="0.7"/>
<text x="377.00" y="376.60" font-size="6.6" text-anchor="end" fill="#333">0</text>
<line x1="377.80" y1="364.30" x2="380.40" y2="364.30" stroke="#333" stroke-width="0.7"/>
<text x="377.00" y="366.60" font-size="6.6" text-anchor="end" fill="#333">20</text>
<line x1="377.80" y1="384.30" x2="380.40" y2="384.30" stroke="#333" stroke-width="0.7"/>
<text x="377.00" y="386.60" font-size="6.6" text-anchor="end" fill="#333">20</text>
<line x1="377.80" y1="354.30" x2="380.40" y2="354.30" stroke="#333" stroke-width="0.7"/>
<text x="377.00" y="356.60" font-size="6.6" text-anchor="end" fill="#333">40</text>
<line x1="377.80" y1="394.30" x2="380.40" y2="394.30" stroke="#333" stroke-width="0.7"/>
<text x="377.00" y="396.60" font-size="6.6" text-anchor="end" fill="#333">40</text>
<line x1="377.80" y1="344.30" x2="380.40" y2="344.30" stroke="#333" stroke-width="0.7"/>
<text x="377.00" y="346.60" font-size="6.6" text-anchor="end" fill="#333">60</text>
<line x1="377.80" y1="404.30" x2="380.40" y2="404.30" stroke="#333" stroke-width="0.7"/>
<text x="377.00" y="406.60" font-size="6.6" text-anchor="end" fill="#333">60</text>
<line x1="377.80" y1="334.30" x2="380.40" y2="334.30" stroke="#333" stroke-width="0.7"/>
<text x="377.00" y="336.60" font-size="6.6" text-anchor="end" fill="#333">80</text>
<line x1="377.80" y1="414.30" x2="380.40" y2="414.30" stroke="#333" stroke-width="0.7"/>
<text x="377.00" y="416.60" font-size="6.6" text-anchor="end" fill="#333">80</text>
<line x1="377.80" y1="324.30" x2="380.40" y2="324.30" stroke="#333" stroke-width="0.7"/>
<text x="377.00" y="326.60" font-size="6.6" text-anchor="end" fill="#333">100</text>
<line x1="377.80" y1="424.30" x2="380.40" y2="424.30" stroke="#333" stroke-width="0.7"/>
<text x="377.00" y="426.60" font-size="6.6" text-anchor="end" fill="#333">100</text>
<text transform="translate(357.60,374.30) rotate(-90)" font-size="7.95" text-anchor="middle" fill="#1a1a1a">rate of alterations (%)</text>
</svg>
</body></html>
